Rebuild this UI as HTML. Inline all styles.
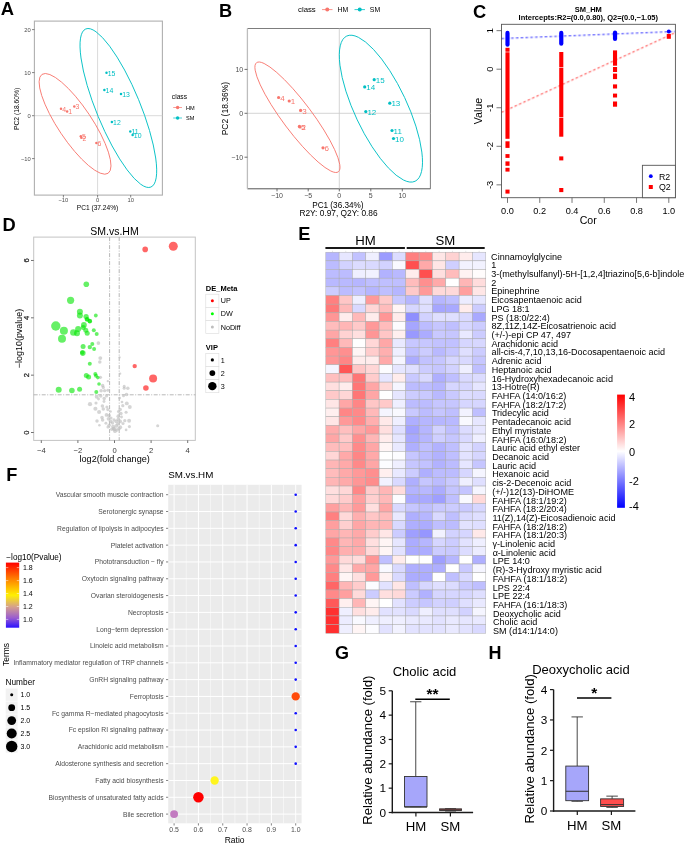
<!DOCTYPE html><html><head><meta charset="utf-8"><style>html,body{margin:0;padding:0;background:#fff;width:685px;height:843px;overflow:hidden}svg{display:block;will-change:transform}</style></head><body>
<svg width="685" height="843" viewBox="0 0 685 843" font-family='"Liberation Sans", sans-serif'>
<rect x="0.00" y="0.00" width="685.00" height="843.00" fill="#fff" stroke="none" stroke-width="1"/>
<text x="0.80" y="14.52" font-size="18.4" text-anchor="start" font-weight="700" fill="#000">A</text>
<rect x="34.40" y="21.10" width="128.00" height="174.00" fill="#fff" stroke="#B0B0B0" stroke-width="1.1"/>
<line x1="97.60" y1="21.10" x2="97.60" y2="195.10" stroke="#CFCFCF" stroke-width="0.8"/>
<line x1="34.40" y1="115.70" x2="162.40" y2="115.70" stroke="#CFCFCF" stroke-width="0.8"/>
<line x1="32.00" y1="29.60" x2="34.40" y2="29.60" stroke="#333" stroke-width="0.6"/>
<text x="30.80" y="31.69" font-size="5.8" text-anchor="end" font-weight="400" fill="#4D4D4D">20</text>
<line x1="32.00" y1="72.60" x2="34.40" y2="72.60" stroke="#333" stroke-width="0.6"/>
<text x="30.80" y="74.69" font-size="5.8" text-anchor="end" font-weight="400" fill="#4D4D4D">10</text>
<line x1="32.00" y1="115.70" x2="34.40" y2="115.70" stroke="#333" stroke-width="0.6"/>
<text x="30.80" y="117.79" font-size="5.8" text-anchor="end" font-weight="400" fill="#4D4D4D">0</text>
<line x1="32.00" y1="158.60" x2="34.40" y2="158.60" stroke="#333" stroke-width="0.6"/>
<text x="30.80" y="160.69" font-size="5.8" text-anchor="end" font-weight="400" fill="#4D4D4D">−10</text>
<line x1="63.40" y1="195.10" x2="63.40" y2="197.50" stroke="#333" stroke-width="0.6"/>
<text x="63.40" y="202.39" font-size="5.8" text-anchor="middle" font-weight="400" fill="#4D4D4D">−10</text>
<line x1="97.60" y1="195.10" x2="97.60" y2="197.50" stroke="#333" stroke-width="0.6"/>
<text x="97.60" y="202.39" font-size="5.8" text-anchor="middle" font-weight="400" fill="#4D4D4D">0</text>
<line x1="130.70" y1="195.10" x2="130.70" y2="197.50" stroke="#333" stroke-width="0.6"/>
<text x="130.70" y="202.39" font-size="5.8" text-anchor="middle" font-weight="400" fill="#4D4D4D">10</text>
<text x="97.50" y="209.68" font-size="6.6" text-anchor="middle" font-weight="400" fill="#000">PC1 (37.24%)</text>
<text x="16.90" y="111.33" font-size="6.75" text-anchor="middle" font-weight="400" fill="#000" transform="rotate(-90 16.90 108.90)">PC2 (18.60%)</text>
<ellipse cx="75.05" cy="123.85" rx="59.50" ry="16.95" transform="rotate(56.23 75.05 123.85)" fill="none" stroke="#F8766D" stroke-width="0.85"/>
<ellipse cx="118.35" cy="108.00" rx="85.50" ry="21.90" transform="rotate(67.62 118.35 108.00)" fill="none" stroke="#00BFC4" stroke-width="0.85"/>
<circle cx="61.00" cy="108.80" r="1.25" fill="#F8766D"/>
<text x="62.20" y="111.68" font-size="6.9" text-anchor="start" font-weight="400" fill="#F8766D">4</text>
<circle cx="67.10" cy="111.40" r="1.25" fill="#F8766D"/>
<text x="68.30" y="114.28" font-size="6.9" text-anchor="start" font-weight="400" fill="#F8766D">1</text>
<circle cx="74.30" cy="106.50" r="1.25" fill="#F8766D"/>
<text x="75.50" y="109.38" font-size="6.9" text-anchor="start" font-weight="400" fill="#F8766D">3</text>
<circle cx="80.80" cy="136.20" r="1.25" fill="#F8766D"/>
<text x="82.00" y="139.08" font-size="6.9" text-anchor="start" font-weight="400" fill="#F8766D">5</text>
<circle cx="81.30" cy="137.80" r="1.25" fill="#F8766D"/>
<text x="82.50" y="140.68" font-size="6.9" text-anchor="start" font-weight="400" fill="#F8766D">2</text>
<circle cx="96.40" cy="142.90" r="1.25" fill="#F8766D"/>
<text x="97.60" y="145.78" font-size="6.9" text-anchor="start" font-weight="400" fill="#F8766D">6</text>
<circle cx="106.50" cy="72.70" r="1.25" fill="#00BFC4"/>
<text x="107.70" y="75.58" font-size="6.9" text-anchor="start" font-weight="400" fill="#00BFC4">15</text>
<circle cx="104.40" cy="89.90" r="1.25" fill="#00BFC4"/>
<text x="105.60" y="92.78" font-size="6.9" text-anchor="start" font-weight="400" fill="#00BFC4">14</text>
<circle cx="121.00" cy="94.00" r="1.25" fill="#00BFC4"/>
<text x="122.20" y="96.88" font-size="6.9" text-anchor="start" font-weight="400" fill="#00BFC4">13</text>
<circle cx="111.90" cy="122.00" r="1.25" fill="#00BFC4"/>
<text x="113.10" y="124.88" font-size="6.9" text-anchor="start" font-weight="400" fill="#00BFC4">12</text>
<circle cx="130.30" cy="131.50" r="1.25" fill="#00BFC4"/>
<text x="131.50" y="134.38" font-size="6.9" text-anchor="start" font-weight="400" fill="#00BFC4">11</text>
<circle cx="132.60" cy="135.00" r="1.25" fill="#00BFC4"/>
<text x="133.80" y="137.88" font-size="6.9" text-anchor="start" font-weight="400" fill="#00BFC4">10</text>
<text x="171.80" y="98.61" font-size="6.7" text-anchor="start" font-weight="400" fill="#000">class</text>
<line x1="173.20" y1="107.50" x2="182.00" y2="107.50" stroke="#F8766D" stroke-width="0.7"/>
<circle cx="177.60" cy="107.50" r="1.70" fill="#F8766D"/>
<text x="186.00" y="109.52" font-size="5.6" text-anchor="start" font-weight="400" fill="#000">HM</text>
<line x1="173.20" y1="118.00" x2="182.00" y2="118.00" stroke="#00BFC4" stroke-width="0.7"/>
<circle cx="177.60" cy="118.00" r="1.70" fill="#00BFC4"/>
<text x="186.00" y="120.02" font-size="5.6" text-anchor="start" font-weight="400" fill="#000">SM</text>
<text x="219.00" y="16.95" font-size="18.2" text-anchor="start" font-weight="700" fill="#000">B</text>
<rect x="247.40" y="28.50" width="183.00" height="160.30" fill="#fff" stroke="none" stroke-width="1"/>
<line x1="247.40" y1="28.50" x2="430.40" y2="28.50" stroke="#6E6E6E" stroke-width="0.9"/>
<line x1="430.40" y1="28.50" x2="430.40" y2="188.80" stroke="#6E6E6E" stroke-width="0.9"/>
<line x1="247.40" y1="188.80" x2="430.40" y2="188.80" stroke="#555" stroke-width="1.0"/>
<line x1="247.40" y1="28.50" x2="247.40" y2="188.80" stroke="#BDBDBD" stroke-width="1.3"/>
<line x1="339.30" y1="28.50" x2="339.30" y2="188.80" stroke="#CACACA" stroke-width="0.8"/>
<line x1="247.40" y1="113.30" x2="430.40" y2="113.30" stroke="#CACACA" stroke-width="0.8"/>
<line x1="244.50" y1="69.40" x2="247.40" y2="69.40" stroke="#333" stroke-width="0.7"/>
<text x="243.20" y="71.92" font-size="7.0" text-anchor="end" font-weight="400" fill="#4D4D4D">10</text>
<line x1="244.50" y1="113.30" x2="247.40" y2="113.30" stroke="#333" stroke-width="0.7"/>
<text x="243.20" y="115.82" font-size="7.0" text-anchor="end" font-weight="400" fill="#4D4D4D">0</text>
<line x1="244.50" y1="157.20" x2="247.40" y2="157.20" stroke="#333" stroke-width="0.7"/>
<text x="243.20" y="159.72" font-size="7.0" text-anchor="end" font-weight="400" fill="#4D4D4D">−10</text>
<line x1="277.00" y1="188.80" x2="277.00" y2="191.40" stroke="#333" stroke-width="0.7"/>
<text x="277.00" y="198.12" font-size="7.0" text-anchor="middle" font-weight="400" fill="#4D4D4D">−10</text>
<line x1="308.20" y1="188.80" x2="308.20" y2="191.40" stroke="#333" stroke-width="0.7"/>
<text x="308.20" y="198.12" font-size="7.0" text-anchor="middle" font-weight="400" fill="#4D4D4D">−5</text>
<line x1="339.30" y1="188.80" x2="339.30" y2="191.40" stroke="#333" stroke-width="0.7"/>
<text x="339.30" y="198.12" font-size="7.0" text-anchor="middle" font-weight="400" fill="#4D4D4D">0</text>
<line x1="370.80" y1="188.80" x2="370.80" y2="191.40" stroke="#333" stroke-width="0.7"/>
<text x="370.80" y="198.12" font-size="7.0" text-anchor="middle" font-weight="400" fill="#4D4D4D">5</text>
<line x1="402.30" y1="188.80" x2="402.30" y2="191.40" stroke="#333" stroke-width="0.7"/>
<text x="402.30" y="198.12" font-size="7.0" text-anchor="middle" font-weight="400" fill="#4D4D4D">10</text>
<text x="337.90" y="208.15" font-size="8.2" text-anchor="middle" font-weight="400" fill="#000">PC1 (36.34%)</text>
<text x="338.50" y="215.80" font-size="8.33" text-anchor="middle" font-weight="400" fill="#000">R2Y: 0.97, Q2Y: 0.86</text>
<text x="224.60" y="111.66" font-size="8.5" text-anchor="middle" font-weight="400" fill="#000" transform="rotate(-90 224.60 108.60)">PC2 (18.36%)</text>
<text x="298.00" y="12.41" font-size="7.8" text-anchor="start" font-weight="400" fill="#000">class</text>
<line x1="322.00" y1="9.60" x2="332.50" y2="9.60" stroke="#F8766D" stroke-width="0.8"/>
<circle cx="327.25" cy="9.60" r="2.00" fill="#F8766D"/>
<text x="337.60" y="12.08" font-size="6.9" text-anchor="start" font-weight="400" fill="#000">HM</text>
<line x1="354.50" y1="9.60" x2="365.00" y2="9.60" stroke="#00BFC4" stroke-width="0.8"/>
<circle cx="359.75" cy="9.60" r="2.00" fill="#00BFC4"/>
<text x="369.80" y="12.08" font-size="6.9" text-anchor="start" font-weight="400" fill="#000">SM</text>
<ellipse cx="297.45" cy="117.25" rx="68.19" ry="14.60" transform="rotate(53.13 297.45 117.25)" fill="none" stroke="#F8766D" stroke-width="0.85"/>
<ellipse cx="380.90" cy="108.65" rx="80.25" ry="26.20" transform="rotate(64.78 380.90 108.65)" fill="none" stroke="#00BFC4" stroke-width="0.85"/>
<circle cx="278.60" cy="97.50" r="1.60" fill="#F8766D"/>
<text x="280.20" y="100.78" font-size="8.0" text-anchor="start" font-weight="400" fill="#F8766D">4</text>
<circle cx="289.20" cy="101.00" r="1.60" fill="#F8766D"/>
<text x="290.80" y="104.28" font-size="8.0" text-anchor="start" font-weight="400" fill="#F8766D">1</text>
<circle cx="300.60" cy="110.40" r="1.60" fill="#F8766D"/>
<text x="302.20" y="113.68" font-size="8.0" text-anchor="start" font-weight="400" fill="#F8766D">3</text>
<circle cx="299.40" cy="126.40" r="1.60" fill="#F8766D"/>
<text x="301.00" y="129.68" font-size="8.0" text-anchor="start" font-weight="400" fill="#F8766D">5</text>
<circle cx="300.00" cy="127.00" r="1.60" fill="#F8766D"/>
<text x="301.60" y="130.28" font-size="8.0" text-anchor="start" font-weight="400" fill="#F8766D">2</text>
<circle cx="323.00" cy="147.80" r="1.60" fill="#F8766D"/>
<text x="324.60" y="151.08" font-size="8.0" text-anchor="start" font-weight="400" fill="#F8766D">6</text>
<circle cx="374.20" cy="79.70" r="1.60" fill="#00BFC4"/>
<text x="375.80" y="82.98" font-size="8.0" text-anchor="start" font-weight="400" fill="#00BFC4">15</text>
<circle cx="364.70" cy="86.90" r="1.60" fill="#00BFC4"/>
<text x="366.30" y="90.18" font-size="8.0" text-anchor="start" font-weight="400" fill="#00BFC4">14</text>
<circle cx="389.80" cy="103.20" r="1.60" fill="#00BFC4"/>
<text x="391.40" y="106.48" font-size="8.0" text-anchor="start" font-weight="400" fill="#00BFC4">13</text>
<circle cx="365.80" cy="111.60" r="1.60" fill="#00BFC4"/>
<text x="367.40" y="114.88" font-size="8.0" text-anchor="start" font-weight="400" fill="#00BFC4">12</text>
<circle cx="392.00" cy="130.50" r="1.60" fill="#00BFC4"/>
<text x="393.60" y="133.78" font-size="8.0" text-anchor="start" font-weight="400" fill="#00BFC4">11</text>
<circle cx="393.50" cy="138.50" r="1.60" fill="#00BFC4"/>
<text x="395.10" y="141.78" font-size="8.0" text-anchor="start" font-weight="400" fill="#00BFC4">10</text>
<text x="472.90" y="18.44" font-size="18.3" text-anchor="start" font-weight="700" fill="#000">C</text>
<text x="588.30" y="11.70" font-size="7.5" text-anchor="middle" font-weight="700" fill="#000">SM_HM</text>
<text x="588.30" y="20.30" font-size="7.5" text-anchor="middle" font-weight="700" fill="#000">Intercepts:R2=(0.0,0.80), Q2=(0.0,−1.05)</text>
<svg x="501.5" y="24.3" width="173.89999999999998" height="173.39999999999998" overflow="hidden"><g transform="translate(-501.5,-24.3)">
<line x1="501.50" y1="38.60" x2="675.40" y2="31.54" stroke="#2020FF" stroke-width="0.9" stroke-dasharray="2.6 2.2"/>
<line x1="501.50" y1="112.43" x2="675.40" y2="32.63" stroke="#FF2020" stroke-width="0.9" stroke-dasharray="2.6 2.2"/>
</g></svg>
<rect x="505.45" y="47.80" width="4.10" height="3.90" fill="#FF0000" stroke="none" stroke-width="1"/>
<rect x="505.45" y="52.30" width="4.10" height="86.50" fill="#FF0000" stroke="none" stroke-width="1"/>
<rect x="505.45" y="141.30" width="4.10" height="6.60" fill="#FF0000" stroke="none" stroke-width="1"/>
<rect x="505.45" y="154.10" width="4.10" height="3.80" fill="#FF0000" stroke="none" stroke-width="1"/>
<rect x="505.45" y="161.40" width="4.10" height="4.40" fill="#FF0000" stroke="none" stroke-width="1"/>
<rect x="505.45" y="167.80" width="4.10" height="3.80" fill="#FF0000" stroke="none" stroke-width="1"/>
<rect x="505.45" y="189.60" width="4.10" height="4.00" fill="#FF0000" stroke="none" stroke-width="1"/>
<rect x="505.40" y="30.8" width="4.2" height="16" rx="2.1" fill="#0000FF"/>
<rect x="559.22" y="52.00" width="4.10" height="15.30" fill="#FF0000" stroke="none" stroke-width="1"/>
<rect x="559.22" y="67.90" width="4.10" height="49.20" fill="#FF0000" stroke="none" stroke-width="1"/>
<rect x="559.22" y="117.70" width="4.10" height="19.00" fill="#FF0000" stroke="none" stroke-width="1"/>
<rect x="559.22" y="156.40" width="4.10" height="4.00" fill="#FF0000" stroke="none" stroke-width="1"/>
<rect x="559.22" y="188.00" width="4.10" height="4.10" fill="#FF0000" stroke="none" stroke-width="1"/>
<rect x="559.17" y="30.8" width="4.2" height="15" rx="2.1" fill="#0000FF"/>
<rect x="612.98" y="50.40" width="4.10" height="15.30" fill="#FF0000" stroke="none" stroke-width="1"/>
<rect x="612.98" y="67.00" width="4.10" height="5.00" fill="#FF0000" stroke="none" stroke-width="1"/>
<rect x="612.98" y="73.60" width="4.10" height="5.50" fill="#FF0000" stroke="none" stroke-width="1"/>
<rect x="612.98" y="84.40" width="4.10" height="4.10" fill="#FF0000" stroke="none" stroke-width="1"/>
<rect x="612.98" y="93.60" width="4.10" height="3.90" fill="#FF0000" stroke="none" stroke-width="1"/>
<rect x="612.98" y="101.50" width="4.10" height="5.20" fill="#FF0000" stroke="none" stroke-width="1"/>
<rect x="612.93" y="30.5" width="4.2" height="10.5" rx="2.1" fill="#0000FF"/>
<rect x="666.75" y="33.90" width="4.10" height="4.90" fill="#FF0000" stroke="none" stroke-width="1"/>
<circle cx="668.80" cy="31.60" r="2.00" fill="#0000FF"/>
<rect x="501.50" y="24.30" width="173.90" height="173.40" fill="none" stroke="#555" stroke-width="0.9"/>
<rect x="642.40" y="165.30" width="33.00" height="32.40" fill="#fff" stroke="#555" stroke-width="0.9"/>
<circle cx="650.80" cy="176.20" r="1.90" fill="#0000FF"/>
<rect x="648.80" y="185.00" width="4.00" height="4.00" fill="#FF0000" stroke="none" stroke-width="1"/>
<text x="659.00" y="179.57" font-size="8.8" text-anchor="start" font-weight="400" fill="#000">R2</text>
<text x="659.00" y="190.37" font-size="8.8" text-anchor="start" font-weight="400" fill="#000">Q2</text>
<line x1="496.50" y1="30.65" x2="501.50" y2="30.65" stroke="#555" stroke-width="0.8"/>
<text x="489.30" y="34.03" font-size="9.4" text-anchor="middle" font-weight="400" fill="#000" transform="rotate(-90 489.30 30.65)">1</text>
<line x1="496.50" y1="69.20" x2="501.50" y2="69.20" stroke="#555" stroke-width="0.8"/>
<text x="489.30" y="72.58" font-size="9.4" text-anchor="middle" font-weight="400" fill="#000" transform="rotate(-90 489.30 69.20)">0</text>
<line x1="496.50" y1="107.75" x2="501.50" y2="107.75" stroke="#555" stroke-width="0.8"/>
<text x="489.30" y="111.13" font-size="9.4" text-anchor="middle" font-weight="400" fill="#000" transform="rotate(-90 489.30 107.75)">-1</text>
<line x1="496.50" y1="146.30" x2="501.50" y2="146.30" stroke="#555" stroke-width="0.8"/>
<text x="489.30" y="149.68" font-size="9.4" text-anchor="middle" font-weight="400" fill="#000" transform="rotate(-90 489.30 146.30)">-2</text>
<line x1="496.50" y1="184.85" x2="501.50" y2="184.85" stroke="#555" stroke-width="0.8"/>
<text x="489.30" y="188.23" font-size="9.4" text-anchor="middle" font-weight="400" fill="#000" transform="rotate(-90 489.30 184.85)">-3</text>
<line x1="507.50" y1="197.70" x2="507.50" y2="202.90" stroke="#555" stroke-width="0.8"/>
<text x="507.50" y="213.51" font-size="9.2" text-anchor="middle" font-weight="400" fill="#000">0.0</text>
<line x1="539.76" y1="197.70" x2="539.76" y2="202.90" stroke="#555" stroke-width="0.8"/>
<text x="539.76" y="213.51" font-size="9.2" text-anchor="middle" font-weight="400" fill="#000">0.2</text>
<line x1="572.02" y1="197.70" x2="572.02" y2="202.90" stroke="#555" stroke-width="0.8"/>
<text x="572.02" y="213.51" font-size="9.2" text-anchor="middle" font-weight="400" fill="#000">0.4</text>
<line x1="604.28" y1="197.70" x2="604.28" y2="202.90" stroke="#555" stroke-width="0.8"/>
<text x="604.28" y="213.51" font-size="9.2" text-anchor="middle" font-weight="400" fill="#000">0.6</text>
<line x1="636.54" y1="197.70" x2="636.54" y2="202.90" stroke="#555" stroke-width="0.8"/>
<text x="636.54" y="213.51" font-size="9.2" text-anchor="middle" font-weight="400" fill="#000">0.8</text>
<line x1="668.80" y1="197.70" x2="668.80" y2="202.90" stroke="#555" stroke-width="0.8"/>
<text x="668.80" y="213.51" font-size="9.2" text-anchor="middle" font-weight="400" fill="#000">1.0</text>
<text x="588.20" y="224.02" font-size="10.6" text-anchor="middle" font-weight="400" fill="#000">Cor</text>
<text x="477.90" y="114.92" font-size="10.6" text-anchor="middle" font-weight="400" fill="#000" transform="rotate(-90 477.90 111.10)">Value</text>
<text x="2.60" y="231.19" font-size="18.3" text-anchor="start" font-weight="700" fill="#000">D</text>
<rect x="33.70" y="237.10" width="161.60" height="203.30" fill="#fff" stroke="#C4C4C4" stroke-width="1.0"/>
<text x="114.50" y="234.78" font-size="10.5" text-anchor="middle" font-weight="400" fill="#000">SM.vs.HM</text>
<line x1="109.60" y1="237.10" x2="109.60" y2="440.40" stroke="#9A9A9A" stroke-width="0.7" stroke-dasharray="4 1.5 1 1.5"/>
<line x1="119.20" y1="237.10" x2="119.20" y2="440.40" stroke="#9A9A9A" stroke-width="0.7" stroke-dasharray="4 1.5 1 1.5"/>
<line x1="33.70" y1="394.80" x2="195.30" y2="394.80" stroke="#9A9A9A" stroke-width="0.7" stroke-dasharray="4 1.5 1 1.5"/>
<line x1="31.00" y1="432.50" x2="33.70" y2="432.50" stroke="#333" stroke-width="0.7"/>
<text x="26.00" y="435.24" font-size="7.6" text-anchor="middle" font-weight="400" fill="#2A2A2A" transform="rotate(-90 26.00 432.50)" stroke="#2A2A2A" stroke-width="0.25">0</text>
<line x1="31.00" y1="375.16" x2="33.70" y2="375.16" stroke="#333" stroke-width="0.7"/>
<text x="26.00" y="377.90" font-size="7.6" text-anchor="middle" font-weight="400" fill="#2A2A2A" transform="rotate(-90 26.00 375.16)" stroke="#2A2A2A" stroke-width="0.25">2</text>
<line x1="31.00" y1="317.82" x2="33.70" y2="317.82" stroke="#333" stroke-width="0.7"/>
<text x="26.00" y="320.56" font-size="7.6" text-anchor="middle" font-weight="400" fill="#2A2A2A" transform="rotate(-90 26.00 317.82)" stroke="#2A2A2A" stroke-width="0.25">4</text>
<line x1="31.00" y1="260.48" x2="33.70" y2="260.48" stroke="#333" stroke-width="0.7"/>
<text x="26.00" y="263.22" font-size="7.6" text-anchor="middle" font-weight="400" fill="#2A2A2A" transform="rotate(-90 26.00 260.48)" stroke="#2A2A2A" stroke-width="0.25">6</text>
<line x1="41.30" y1="440.40" x2="41.30" y2="443.00" stroke="#333" stroke-width="0.7"/>
<text x="41.30" y="452.74" font-size="7.6" text-anchor="middle" font-weight="400" fill="#3A3A3A">−4</text>
<line x1="77.90" y1="440.40" x2="77.90" y2="443.00" stroke="#333" stroke-width="0.7"/>
<text x="77.90" y="452.74" font-size="7.6" text-anchor="middle" font-weight="400" fill="#3A3A3A">−2</text>
<line x1="114.50" y1="440.40" x2="114.50" y2="443.00" stroke="#333" stroke-width="0.7"/>
<text x="114.50" y="452.74" font-size="7.6" text-anchor="middle" font-weight="400" fill="#3A3A3A">0</text>
<line x1="151.10" y1="440.40" x2="151.10" y2="443.00" stroke="#333" stroke-width="0.7"/>
<text x="151.10" y="452.74" font-size="7.6" text-anchor="middle" font-weight="400" fill="#3A3A3A">2</text>
<line x1="187.70" y1="440.40" x2="187.70" y2="443.00" stroke="#333" stroke-width="0.7"/>
<text x="187.70" y="452.74" font-size="7.6" text-anchor="middle" font-weight="400" fill="#3A3A3A">4</text>
<text x="114.70" y="461.58" font-size="9.1" text-anchor="middle" font-weight="400" fill="#000">log2(fold change)</text>
<text x="19.00" y="341.72" font-size="8.95" text-anchor="middle" font-weight="400" fill="#000" transform="rotate(-90 19.00 338.50)">−log10(pvalue)</text>
<circle cx="98.40" cy="343.10" r="1.85" fill="#BEBEBE" fill-opacity="0.65"/>
<circle cx="100.30" cy="358.10" r="1.95" fill="#BEBEBE" fill-opacity="0.65"/>
<circle cx="99.80" cy="362.00" r="1.75" fill="#BEBEBE" fill-opacity="0.65"/>
<circle cx="119.60" cy="357.40" r="1.15" fill="#BEBEBE" fill-opacity="0.65"/>
<circle cx="120.20" cy="373.70" r="1.15" fill="#BEBEBE" fill-opacity="0.65"/>
<circle cx="100.40" cy="377.30" r="1.65" fill="#BEBEBE" fill-opacity="0.65"/>
<circle cx="107.80" cy="381.20" r="1.15" fill="#BEBEBE" fill-opacity="0.65"/>
<circle cx="102.60" cy="385.50" r="1.75" fill="#BEBEBE" fill-opacity="0.65"/>
<circle cx="103.30" cy="387.40" r="1.65" fill="#BEBEBE" fill-opacity="0.65"/>
<circle cx="101.10" cy="390.70" r="1.75" fill="#BEBEBE" fill-opacity="0.65"/>
<circle cx="104.60" cy="390.70" r="1.65" fill="#BEBEBE" fill-opacity="0.65"/>
<circle cx="107.80" cy="390.30" r="1.55" fill="#BEBEBE" fill-opacity="0.65"/>
<circle cx="124.20" cy="386.40" r="1.55" fill="#BEBEBE" fill-opacity="0.65"/>
<circle cx="124.20" cy="388.30" r="1.55" fill="#BEBEBE" fill-opacity="0.65"/>
<circle cx="127.80" cy="388.30" r="1.75" fill="#BEBEBE" fill-opacity="0.65"/>
<circle cx="96.70" cy="396.80" r="1.95" fill="#BEBEBE" fill-opacity="0.65"/>
<circle cx="100.70" cy="395.90" r="1.75" fill="#BEBEBE" fill-opacity="0.65"/>
<circle cx="104.20" cy="398.50" r="1.75" fill="#BEBEBE" fill-opacity="0.65"/>
<circle cx="106.50" cy="395.90" r="1.55" fill="#BEBEBE" fill-opacity="0.65"/>
<circle cx="126.50" cy="394.60" r="1.75" fill="#BEBEBE" fill-opacity="0.65"/>
<circle cx="123.50" cy="395.90" r="1.45" fill="#BEBEBE" fill-opacity="0.65"/>
<circle cx="119.60" cy="398.10" r="1.45" fill="#BEBEBE" fill-opacity="0.65"/>
<circle cx="90.00" cy="404.20" r="2.15" fill="#BEBEBE" fill-opacity="0.65"/>
<circle cx="95.40" cy="408.70" r="2.05" fill="#BEBEBE" fill-opacity="0.65"/>
<circle cx="99.10" cy="412.00" r="2.05" fill="#BEBEBE" fill-opacity="0.65"/>
<circle cx="102.40" cy="406.10" r="1.75" fill="#BEBEBE" fill-opacity="0.65"/>
<circle cx="103.30" cy="409.00" r="1.75" fill="#BEBEBE" fill-opacity="0.65"/>
<circle cx="106.90" cy="407.00" r="1.55" fill="#BEBEBE" fill-opacity="0.65"/>
<circle cx="107.80" cy="409.60" r="1.55" fill="#BEBEBE" fill-opacity="0.65"/>
<circle cx="126.80" cy="403.40" r="1.95" fill="#BEBEBE" fill-opacity="0.65"/>
<circle cx="129.80" cy="407.00" r="1.95" fill="#BEBEBE" fill-opacity="0.65"/>
<circle cx="122.80" cy="405.70" r="1.65" fill="#BEBEBE" fill-opacity="0.65"/>
<circle cx="120.20" cy="409.60" r="1.75" fill="#BEBEBE" fill-opacity="0.65"/>
<circle cx="126.10" cy="412.20" r="1.55" fill="#BEBEBE" fill-opacity="0.65"/>
<circle cx="106.50" cy="414.90" r="1.85" fill="#BEBEBE" fill-opacity="0.65"/>
<circle cx="109.10" cy="415.50" r="1.75" fill="#BEBEBE" fill-opacity="0.65"/>
<circle cx="118.30" cy="416.20" r="1.85" fill="#BEBEBE" fill-opacity="0.65"/>
<circle cx="120.90" cy="413.50" r="1.75" fill="#BEBEBE" fill-opacity="0.65"/>
<circle cx="102.00" cy="417.50" r="1.75" fill="#BEBEBE" fill-opacity="0.65"/>
<circle cx="102.60" cy="420.00" r="1.75" fill="#BEBEBE" fill-opacity="0.65"/>
<circle cx="97.00" cy="421.10" r="1.75" fill="#BEBEBE" fill-opacity="0.65"/>
<circle cx="108.50" cy="418.80" r="1.85" fill="#BEBEBE" fill-opacity="0.65"/>
<circle cx="110.50" cy="421.40" r="1.85" fill="#BEBEBE" fill-opacity="0.65"/>
<circle cx="116.30" cy="421.40" r="1.85" fill="#BEBEBE" fill-opacity="0.65"/>
<circle cx="118.30" cy="419.40" r="1.85" fill="#BEBEBE" fill-opacity="0.65"/>
<circle cx="120.20" cy="421.40" r="1.85" fill="#BEBEBE" fill-opacity="0.65"/>
<circle cx="124.80" cy="420.70" r="1.65" fill="#BEBEBE" fill-opacity="0.65"/>
<circle cx="129.10" cy="420.70" r="1.95" fill="#BEBEBE" fill-opacity="0.65"/>
<circle cx="109.10" cy="425.30" r="1.75" fill="#BEBEBE" fill-opacity="0.65"/>
<circle cx="113.10" cy="426.60" r="1.95" fill="#BEBEBE" fill-opacity="0.65"/>
<circle cx="116.30" cy="425.90" r="1.95" fill="#BEBEBE" fill-opacity="0.65"/>
<circle cx="120.20" cy="427.20" r="1.95" fill="#BEBEBE" fill-opacity="0.65"/>
<circle cx="114.40" cy="429.20" r="1.95" fill="#BEBEBE" fill-opacity="0.65"/>
<circle cx="115.00" cy="431.20" r="1.85" fill="#BEBEBE" fill-opacity="0.65"/>
<circle cx="111.80" cy="429.20" r="1.75" fill="#BEBEBE" fill-opacity="0.65"/>
<circle cx="129.40" cy="426.60" r="1.55" fill="#BEBEBE" fill-opacity="0.65"/>
<circle cx="126.10" cy="429.90" r="1.35" fill="#BEBEBE" fill-opacity="0.65"/>
<circle cx="157.70" cy="425.70" r="1.55" fill="#BEBEBE" fill-opacity="0.65"/>
<circle cx="99.40" cy="425.30" r="1.25" fill="#BEBEBE" fill-opacity="0.65"/>
<circle cx="105.90" cy="423.30" r="1.45" fill="#BEBEBE" fill-opacity="0.65"/>
<circle cx="112.50" cy="423.00" r="1.65" fill="#BEBEBE" fill-opacity="0.65"/>
<circle cx="117.80" cy="424.00" r="1.75" fill="#BEBEBE" fill-opacity="0.65"/>
<circle cx="111.00" cy="418.00" r="1.55" fill="#BEBEBE" fill-opacity="0.65"/>
<circle cx="114.00" cy="420.00" r="1.65" fill="#BEBEBE" fill-opacity="0.65"/>
<circle cx="118.50" cy="411.50" r="1.55" fill="#BEBEBE" fill-opacity="0.65"/>
<circle cx="121.50" cy="417.00" r="1.45" fill="#BEBEBE" fill-opacity="0.65"/>
<circle cx="104.00" cy="401.50" r="1.45" fill="#BEBEBE" fill-opacity="0.65"/>
<circle cx="98.50" cy="399.00" r="1.45" fill="#BEBEBE" fill-opacity="0.65"/>
<circle cx="110.50" cy="411.50" r="1.35" fill="#BEBEBE" fill-opacity="0.65"/>
<circle cx="122.00" cy="402.00" r="1.35" fill="#BEBEBE" fill-opacity="0.65"/>
<circle cx="113.50" cy="428.50" r="1.75" fill="#BEBEBE" fill-opacity="0.65"/>
<circle cx="117.00" cy="430.00" r="1.75" fill="#BEBEBE" fill-opacity="0.65"/>
<circle cx="119.00" cy="428.80" r="1.65" fill="#BEBEBE" fill-opacity="0.65"/>
<circle cx="108.00" cy="427.00" r="1.55" fill="#BEBEBE" fill-opacity="0.65"/>
<circle cx="123.00" cy="423.50" r="1.55" fill="#BEBEBE" fill-opacity="0.65"/>
<circle cx="96.00" cy="403.00" r="1.55" fill="#BEBEBE" fill-opacity="0.65"/>
<circle cx="86.30" cy="284.30" r="2.80" fill="#00E600" fill-opacity="0.6"/>
<circle cx="70.60" cy="300.30" r="3.60" fill="#00E600" fill-opacity="0.6"/>
<circle cx="79.90" cy="311.80" r="3.00" fill="#00E600" fill-opacity="0.6"/>
<circle cx="79.90" cy="315.50" r="3.00" fill="#00E600" fill-opacity="0.6"/>
<circle cx="86.10" cy="316.50" r="2.60" fill="#00E600" fill-opacity="0.6"/>
<circle cx="87.30" cy="319.20" r="2.30" fill="#00E600" fill-opacity="0.6"/>
<circle cx="89.80" cy="321.00" r="2.20" fill="#00E600" fill-opacity="0.6"/>
<circle cx="95.80" cy="315.50" r="1.90" fill="#00E600" fill-opacity="0.6"/>
<circle cx="55.80" cy="326.00" r="4.70" fill="#00E600" fill-opacity="0.6"/>
<circle cx="63.90" cy="330.70" r="4.00" fill="#00E600" fill-opacity="0.6"/>
<circle cx="62.00" cy="338.70" r="4.00" fill="#00E600" fill-opacity="0.6"/>
<circle cx="73.40" cy="332.50" r="3.30" fill="#00E600" fill-opacity="0.6"/>
<circle cx="78.10" cy="328.90" r="3.00" fill="#00E600" fill-opacity="0.6"/>
<circle cx="77.00" cy="333.20" r="3.00" fill="#00E600" fill-opacity="0.6"/>
<circle cx="83.90" cy="324.90" r="2.90" fill="#00E600" fill-opacity="0.6"/>
<circle cx="83.20" cy="327.40" r="2.50" fill="#00E600" fill-opacity="0.6"/>
<circle cx="85.80" cy="330.30" r="2.50" fill="#00E600" fill-opacity="0.6"/>
<circle cx="87.20" cy="333.20" r="2.50" fill="#00E600" fill-opacity="0.6"/>
<circle cx="93.80" cy="330.30" r="2.00" fill="#00E600" fill-opacity="0.6"/>
<circle cx="96.70" cy="334.00" r="2.00" fill="#00E600" fill-opacity="0.6"/>
<circle cx="89.80" cy="321.20" r="2.20" fill="#00E600" fill-opacity="0.6"/>
<circle cx="86.90" cy="319.40" r="2.20" fill="#00E600" fill-opacity="0.6"/>
<circle cx="83.10" cy="346.60" r="2.50" fill="#00E600" fill-opacity="0.6"/>
<circle cx="82.80" cy="353.10" r="2.80" fill="#00E600" fill-opacity="0.6"/>
<circle cx="82.30" cy="352.50" r="2.20" fill="#00E600" fill-opacity="0.6"/>
<circle cx="89.80" cy="347.10" r="2.20" fill="#00E600" fill-opacity="0.6"/>
<circle cx="92.30" cy="343.90" r="2.00" fill="#00E600" fill-opacity="0.6"/>
<circle cx="94.10" cy="348.90" r="2.00" fill="#00E600" fill-opacity="0.6"/>
<circle cx="89.80" cy="363.80" r="2.00" fill="#00E600" fill-opacity="0.6"/>
<circle cx="86.30" cy="375.60" r="2.50" fill="#00E600" fill-opacity="0.6"/>
<circle cx="88.60" cy="377.10" r="2.50" fill="#00E600" fill-opacity="0.6"/>
<circle cx="95.30" cy="374.10" r="2.00" fill="#00E600" fill-opacity="0.6"/>
<circle cx="96.00" cy="375.80" r="2.00" fill="#00E600" fill-opacity="0.6"/>
<circle cx="97.80" cy="377.60" r="1.80" fill="#00E600" fill-opacity="0.6"/>
<circle cx="99.00" cy="384.00" r="1.80" fill="#00E600" fill-opacity="0.6"/>
<circle cx="58.70" cy="389.80" r="3.00" fill="#00E600" fill-opacity="0.6"/>
<circle cx="71.90" cy="390.50" r="2.80" fill="#00E600" fill-opacity="0.6"/>
<circle cx="79.60" cy="389.30" r="2.50" fill="#00E600" fill-opacity="0.6"/>
<circle cx="96.30" cy="392.00" r="2.00" fill="#00E600" fill-opacity="0.6"/>
<circle cx="173.30" cy="246.20" r="4.50" fill="#FF0000" fill-opacity="0.6"/>
<circle cx="145.20" cy="249.40" r="2.80" fill="#FF0000" fill-opacity="0.6"/>
<circle cx="134.70" cy="366.10" r="2.20" fill="#FF0000" fill-opacity="0.6"/>
<circle cx="153.10" cy="378.60" r="4.00" fill="#FF0000" fill-opacity="0.6"/>
<circle cx="145.90" cy="388.00" r="2.80" fill="#FF0000" fill-opacity="0.6"/>
<text x="205.80" y="290.70" font-size="7.5" text-anchor="start" font-weight="700" fill="#000">DE_Meta</text>
<rect x="205.80" y="294.20" width="13.10" height="13.10" fill="#fff" stroke="#DADADA" stroke-width="0.6"/>
<circle cx="212.35" cy="300.75" r="1.50" fill="#FF0000"/>
<text x="220.70" y="303.34" font-size="7.2" text-anchor="start" font-weight="400" fill="#000">UP</text>
<rect x="205.80" y="307.30" width="13.10" height="13.10" fill="#fff" stroke="#DADADA" stroke-width="0.6"/>
<circle cx="212.35" cy="313.85" r="1.50" fill="#00FF00"/>
<text x="220.70" y="316.44" font-size="7.2" text-anchor="start" font-weight="400" fill="#000">DW</text>
<rect x="205.80" y="320.40" width="13.10" height="13.10" fill="#fff" stroke="#DADADA" stroke-width="0.6"/>
<circle cx="212.35" cy="326.95" r="1.50" fill="#BEBEBE"/>
<text x="220.70" y="329.54" font-size="7.2" text-anchor="start" font-weight="400" fill="#000">NoDiff</text>
<text x="205.80" y="349.90" font-size="7.5" text-anchor="start" font-weight="700" fill="#000">VIP</text>
<rect x="205.80" y="353.40" width="13.10" height="13.10" fill="#fff" stroke="#DADADA" stroke-width="0.6"/>
<circle cx="212.35" cy="359.95" r="1.60" fill="#000"/>
<text x="220.70" y="362.54" font-size="7.2" text-anchor="start" font-weight="400" fill="#000">1</text>
<rect x="205.80" y="366.50" width="13.10" height="13.10" fill="#fff" stroke="#DADADA" stroke-width="0.6"/>
<circle cx="212.35" cy="373.05" r="2.90" fill="#000"/>
<text x="220.70" y="375.64" font-size="7.2" text-anchor="start" font-weight="400" fill="#000">2</text>
<rect x="205.80" y="379.60" width="13.10" height="13.10" fill="#fff" stroke="#DADADA" stroke-width="0.6"/>
<circle cx="212.35" cy="386.15" r="4.20" fill="#000"/>
<text x="220.70" y="388.74" font-size="7.2" text-anchor="start" font-weight="400" fill="#000">3</text>
<text x="298.20" y="240.35" font-size="18.2" text-anchor="start" font-weight="700" fill="#000">E</text>
<text x="365.60" y="244.95" font-size="13.2" text-anchor="middle" font-weight="400" fill="#000">HM</text>
<text x="445.40" y="244.75" font-size="13.2" text-anchor="middle" font-weight="400" fill="#000">SM</text>
<rect x="325.40" y="247.10" width="79.50" height="1.80" fill="#000" stroke="none" stroke-width="1"/>
<rect x="406.70" y="247.10" width="78.00" height="1.80" fill="#000" stroke="none" stroke-width="1"/>
<rect x="325.80" y="252.20" width="13.33" height="8.66" fill="#B6B6FF" stroke="#A8A8A8" stroke-width="0.45"/>
<rect x="339.13" y="252.20" width="13.33" height="8.66" fill="#E6E6FF" stroke="#A8A8A8" stroke-width="0.45"/>
<rect x="352.47" y="252.20" width="13.33" height="8.66" fill="#C2C2FF" stroke="#A8A8A8" stroke-width="0.45"/>
<rect x="365.80" y="252.20" width="13.33" height="8.66" fill="#EFEFFF" stroke="#A8A8A8" stroke-width="0.45"/>
<rect x="379.13" y="252.20" width="13.33" height="8.66" fill="#9C9CFF" stroke="#A8A8A8" stroke-width="0.45"/>
<rect x="392.47" y="252.20" width="13.33" height="8.66" fill="#DCDCFF" stroke="#A8A8A8" stroke-width="0.45"/>
<rect x="405.80" y="252.20" width="13.33" height="8.66" fill="#FF8080" stroke="#A8A8A8" stroke-width="0.45"/>
<rect x="419.13" y="252.20" width="13.33" height="8.66" fill="#FF8989" stroke="#A8A8A8" stroke-width="0.45"/>
<rect x="432.46" y="252.20" width="13.33" height="8.66" fill="#FFE6E6" stroke="#A8A8A8" stroke-width="0.45"/>
<rect x="445.80" y="252.20" width="13.33" height="8.66" fill="#FFD2D2" stroke="#A8A8A8" stroke-width="0.45"/>
<rect x="459.13" y="252.20" width="13.33" height="8.66" fill="#FFECEC" stroke="#A8A8A8" stroke-width="0.45"/>
<rect x="472.46" y="252.20" width="13.33" height="8.66" fill="#E6E6FF" stroke="#A8A8A8" stroke-width="0.45"/>
<rect x="325.80" y="260.86" width="13.33" height="8.66" fill="#BCBCFF" stroke="#A8A8A8" stroke-width="0.45"/>
<rect x="339.13" y="260.86" width="13.33" height="8.66" fill="#D2D2FF" stroke="#A8A8A8" stroke-width="0.45"/>
<rect x="352.47" y="260.86" width="13.33" height="8.66" fill="#DCDCFF" stroke="#A8A8A8" stroke-width="0.45"/>
<rect x="365.80" y="260.86" width="13.33" height="8.66" fill="#D9D9FF" stroke="#A8A8A8" stroke-width="0.45"/>
<rect x="379.13" y="260.86" width="13.33" height="8.66" fill="#D2D2FF" stroke="#A8A8A8" stroke-width="0.45"/>
<rect x="392.47" y="260.86" width="13.33" height="8.66" fill="#F9F9FF" stroke="#A8A8A8" stroke-width="0.45"/>
<rect x="405.80" y="260.86" width="13.33" height="8.66" fill="#FF5050" stroke="#A8A8A8" stroke-width="0.45"/>
<rect x="419.13" y="260.86" width="13.33" height="8.66" fill="#FFA9A9" stroke="#A8A8A8" stroke-width="0.45"/>
<rect x="432.46" y="260.86" width="13.33" height="8.66" fill="#FFE6E6" stroke="#A8A8A8" stroke-width="0.45"/>
<rect x="445.80" y="260.86" width="13.33" height="8.66" fill="#CFCFFF" stroke="#A8A8A8" stroke-width="0.45"/>
<rect x="459.13" y="260.86" width="13.33" height="8.66" fill="#F2F2FF" stroke="#A8A8A8" stroke-width="0.45"/>
<rect x="472.46" y="260.86" width="13.33" height="8.66" fill="#F2F2FF" stroke="#A8A8A8" stroke-width="0.45"/>
<rect x="325.80" y="269.52" width="13.33" height="8.66" fill="#BCBCFF" stroke="#A8A8A8" stroke-width="0.45"/>
<rect x="339.13" y="269.52" width="13.33" height="8.66" fill="#BCBCFF" stroke="#A8A8A8" stroke-width="0.45"/>
<rect x="352.47" y="269.52" width="13.33" height="8.66" fill="#EFEFFF" stroke="#A8A8A8" stroke-width="0.45"/>
<rect x="365.80" y="269.52" width="13.33" height="8.66" fill="#F2F2FF" stroke="#A8A8A8" stroke-width="0.45"/>
<rect x="379.13" y="269.52" width="13.33" height="8.66" fill="#B2B2FF" stroke="#A8A8A8" stroke-width="0.45"/>
<rect x="392.47" y="269.52" width="13.33" height="8.66" fill="#B9B9FF" stroke="#A8A8A8" stroke-width="0.45"/>
<rect x="405.80" y="269.52" width="13.33" height="8.66" fill="#FFECEC" stroke="#A8A8A8" stroke-width="0.45"/>
<rect x="419.13" y="269.52" width="13.33" height="8.66" fill="#FF5050" stroke="#A8A8A8" stroke-width="0.45"/>
<rect x="432.46" y="269.52" width="13.33" height="8.66" fill="#FFDFDF" stroke="#A8A8A8" stroke-width="0.45"/>
<rect x="445.80" y="269.52" width="13.33" height="8.66" fill="#FFBCBC" stroke="#A8A8A8" stroke-width="0.45"/>
<rect x="459.13" y="269.52" width="13.33" height="8.66" fill="#FFF2F2" stroke="#A8A8A8" stroke-width="0.45"/>
<rect x="472.46" y="269.52" width="13.33" height="8.66" fill="#FFFCFC" stroke="#A8A8A8" stroke-width="0.45"/>
<rect x="325.80" y="278.18" width="13.33" height="8.66" fill="#B9B9FF" stroke="#A8A8A8" stroke-width="0.45"/>
<rect x="339.13" y="278.18" width="13.33" height="8.66" fill="#B9B9FF" stroke="#A8A8A8" stroke-width="0.45"/>
<rect x="352.47" y="278.18" width="13.33" height="8.66" fill="#B6B6FF" stroke="#A8A8A8" stroke-width="0.45"/>
<rect x="365.80" y="278.18" width="13.33" height="8.66" fill="#BFBFFF" stroke="#A8A8A8" stroke-width="0.45"/>
<rect x="379.13" y="278.18" width="13.33" height="8.66" fill="#BFBFFF" stroke="#A8A8A8" stroke-width="0.45"/>
<rect x="392.47" y="278.18" width="13.33" height="8.66" fill="#BFBFFF" stroke="#A8A8A8" stroke-width="0.45"/>
<rect x="405.80" y="278.18" width="13.33" height="8.66" fill="#FFBCBC" stroke="#A8A8A8" stroke-width="0.45"/>
<rect x="419.13" y="278.18" width="13.33" height="8.66" fill="#FF8F8F" stroke="#A8A8A8" stroke-width="0.45"/>
<rect x="432.46" y="278.18" width="13.33" height="8.66" fill="#FFA9A9" stroke="#A8A8A8" stroke-width="0.45"/>
<rect x="445.80" y="278.18" width="13.33" height="8.66" fill="#FFFFFF" stroke="#A8A8A8" stroke-width="0.45"/>
<rect x="459.13" y="278.18" width="13.33" height="8.66" fill="#FFB6B6" stroke="#A8A8A8" stroke-width="0.45"/>
<rect x="472.46" y="278.18" width="13.33" height="8.66" fill="#FFDCDC" stroke="#A8A8A8" stroke-width="0.45"/>
<rect x="325.80" y="286.84" width="13.33" height="8.66" fill="#CCCCFF" stroke="#A8A8A8" stroke-width="0.45"/>
<rect x="339.13" y="286.84" width="13.33" height="8.66" fill="#BCBCFF" stroke="#A8A8A8" stroke-width="0.45"/>
<rect x="352.47" y="286.84" width="13.33" height="8.66" fill="#C2C2FF" stroke="#A8A8A8" stroke-width="0.45"/>
<rect x="365.80" y="286.84" width="13.33" height="8.66" fill="#B6B6FF" stroke="#A8A8A8" stroke-width="0.45"/>
<rect x="379.13" y="286.84" width="13.33" height="8.66" fill="#BFBFFF" stroke="#A8A8A8" stroke-width="0.45"/>
<rect x="392.47" y="286.84" width="13.33" height="8.66" fill="#B6B6FF" stroke="#A8A8A8" stroke-width="0.45"/>
<rect x="405.80" y="286.84" width="13.33" height="8.66" fill="#FFC9C9" stroke="#A8A8A8" stroke-width="0.45"/>
<rect x="419.13" y="286.84" width="13.33" height="8.66" fill="#FF9999" stroke="#A8A8A8" stroke-width="0.45"/>
<rect x="432.46" y="286.84" width="13.33" height="8.66" fill="#FFD9D9" stroke="#A8A8A8" stroke-width="0.45"/>
<rect x="445.80" y="286.84" width="13.33" height="8.66" fill="#FFD9D9" stroke="#A8A8A8" stroke-width="0.45"/>
<rect x="459.13" y="286.84" width="13.33" height="8.66" fill="#FF9F9F" stroke="#A8A8A8" stroke-width="0.45"/>
<rect x="472.46" y="286.84" width="13.33" height="8.66" fill="#FFE6E6" stroke="#A8A8A8" stroke-width="0.45"/>
<rect x="325.80" y="295.50" width="13.33" height="8.66" fill="#FF8080" stroke="#A8A8A8" stroke-width="0.45"/>
<rect x="339.13" y="295.50" width="13.33" height="8.66" fill="#FFC6C6" stroke="#A8A8A8" stroke-width="0.45"/>
<rect x="352.47" y="295.50" width="13.33" height="8.66" fill="#EFEFFF" stroke="#A8A8A8" stroke-width="0.45"/>
<rect x="365.80" y="295.50" width="13.33" height="8.66" fill="#FF9999" stroke="#A8A8A8" stroke-width="0.45"/>
<rect x="379.13" y="295.50" width="13.33" height="8.66" fill="#FFC9C9" stroke="#A8A8A8" stroke-width="0.45"/>
<rect x="392.47" y="295.50" width="13.33" height="8.66" fill="#C9C9FF" stroke="#A8A8A8" stroke-width="0.45"/>
<rect x="405.80" y="295.50" width="13.33" height="8.66" fill="#B6B6FF" stroke="#A8A8A8" stroke-width="0.45"/>
<rect x="419.13" y="295.50" width="13.33" height="8.66" fill="#DFDFFF" stroke="#A8A8A8" stroke-width="0.45"/>
<rect x="432.46" y="295.50" width="13.33" height="8.66" fill="#B6B6FF" stroke="#A8A8A8" stroke-width="0.45"/>
<rect x="445.80" y="295.50" width="13.33" height="8.66" fill="#BFBFFF" stroke="#A8A8A8" stroke-width="0.45"/>
<rect x="459.13" y="295.50" width="13.33" height="8.66" fill="#ECECFF" stroke="#A8A8A8" stroke-width="0.45"/>
<rect x="472.46" y="295.50" width="13.33" height="8.66" fill="#E6E6FF" stroke="#A8A8A8" stroke-width="0.45"/>
<rect x="325.80" y="304.17" width="13.33" height="8.66" fill="#FF7979" stroke="#A8A8A8" stroke-width="0.45"/>
<rect x="339.13" y="304.17" width="13.33" height="8.66" fill="#FFB9B9" stroke="#A8A8A8" stroke-width="0.45"/>
<rect x="352.47" y="304.17" width="13.33" height="8.66" fill="#D9D9FF" stroke="#A8A8A8" stroke-width="0.45"/>
<rect x="365.80" y="304.17" width="13.33" height="8.66" fill="#FFD6D6" stroke="#A8A8A8" stroke-width="0.45"/>
<rect x="379.13" y="304.17" width="13.33" height="8.66" fill="#FFBCBC" stroke="#A8A8A8" stroke-width="0.45"/>
<rect x="392.47" y="304.17" width="13.33" height="8.66" fill="#FFF5F5" stroke="#A8A8A8" stroke-width="0.45"/>
<rect x="405.80" y="304.17" width="13.33" height="8.66" fill="#D6D6FF" stroke="#A8A8A8" stroke-width="0.45"/>
<rect x="419.13" y="304.17" width="13.33" height="8.66" fill="#DFDFFF" stroke="#A8A8A8" stroke-width="0.45"/>
<rect x="432.46" y="304.17" width="13.33" height="8.66" fill="#A6A6FF" stroke="#A8A8A8" stroke-width="0.45"/>
<rect x="445.80" y="304.17" width="13.33" height="8.66" fill="#A9A9FF" stroke="#A8A8A8" stroke-width="0.45"/>
<rect x="459.13" y="304.17" width="13.33" height="8.66" fill="#FFECEC" stroke="#A8A8A8" stroke-width="0.45"/>
<rect x="472.46" y="304.17" width="13.33" height="8.66" fill="#CCCCFF" stroke="#A8A8A8" stroke-width="0.45"/>
<rect x="325.80" y="312.83" width="13.33" height="8.66" fill="#FF9696" stroke="#A8A8A8" stroke-width="0.45"/>
<rect x="339.13" y="312.83" width="13.33" height="8.66" fill="#FFECEC" stroke="#A8A8A8" stroke-width="0.45"/>
<rect x="352.47" y="312.83" width="13.33" height="8.66" fill="#FFB9B9" stroke="#A8A8A8" stroke-width="0.45"/>
<rect x="365.80" y="312.83" width="13.33" height="8.66" fill="#FFECEC" stroke="#A8A8A8" stroke-width="0.45"/>
<rect x="379.13" y="312.83" width="13.33" height="8.66" fill="#FF9696" stroke="#A8A8A8" stroke-width="0.45"/>
<rect x="392.47" y="312.83" width="13.33" height="8.66" fill="#FFECEC" stroke="#A8A8A8" stroke-width="0.45"/>
<rect x="405.80" y="312.83" width="13.33" height="8.66" fill="#8F8FFF" stroke="#A8A8A8" stroke-width="0.45"/>
<rect x="419.13" y="312.83" width="13.33" height="8.66" fill="#D2D2FF" stroke="#A8A8A8" stroke-width="0.45"/>
<rect x="432.46" y="312.83" width="13.33" height="8.66" fill="#DFDFFF" stroke="#A8A8A8" stroke-width="0.45"/>
<rect x="445.80" y="312.83" width="13.33" height="8.66" fill="#DFDFFF" stroke="#A8A8A8" stroke-width="0.45"/>
<rect x="459.13" y="312.83" width="13.33" height="8.66" fill="#D9D9FF" stroke="#A8A8A8" stroke-width="0.45"/>
<rect x="472.46" y="312.83" width="13.33" height="8.66" fill="#A9A9FF" stroke="#A8A8A8" stroke-width="0.45"/>
<rect x="325.80" y="321.49" width="13.33" height="8.66" fill="#FFBCBC" stroke="#A8A8A8" stroke-width="0.45"/>
<rect x="339.13" y="321.49" width="13.33" height="8.66" fill="#FFB6B6" stroke="#A8A8A8" stroke-width="0.45"/>
<rect x="352.47" y="321.49" width="13.33" height="8.66" fill="#FFC9C9" stroke="#A8A8A8" stroke-width="0.45"/>
<rect x="365.80" y="321.49" width="13.33" height="8.66" fill="#FF9999" stroke="#A8A8A8" stroke-width="0.45"/>
<rect x="379.13" y="321.49" width="13.33" height="8.66" fill="#FFBCBC" stroke="#A8A8A8" stroke-width="0.45"/>
<rect x="392.47" y="321.49" width="13.33" height="8.66" fill="#FCFCFF" stroke="#A8A8A8" stroke-width="0.45"/>
<rect x="405.80" y="321.49" width="13.33" height="8.66" fill="#A6A6FF" stroke="#A8A8A8" stroke-width="0.45"/>
<rect x="419.13" y="321.49" width="13.33" height="8.66" fill="#BCBCFF" stroke="#A8A8A8" stroke-width="0.45"/>
<rect x="432.46" y="321.49" width="13.33" height="8.66" fill="#C6C6FF" stroke="#A8A8A8" stroke-width="0.45"/>
<rect x="445.80" y="321.49" width="13.33" height="8.66" fill="#BFBFFF" stroke="#A8A8A8" stroke-width="0.45"/>
<rect x="459.13" y="321.49" width="13.33" height="8.66" fill="#D6D6FF" stroke="#A8A8A8" stroke-width="0.45"/>
<rect x="472.46" y="321.49" width="13.33" height="8.66" fill="#CCCCFF" stroke="#A8A8A8" stroke-width="0.45"/>
<rect x="325.80" y="330.15" width="13.33" height="8.66" fill="#FFA6A6" stroke="#A8A8A8" stroke-width="0.45"/>
<rect x="339.13" y="330.15" width="13.33" height="8.66" fill="#FFD2D2" stroke="#A8A8A8" stroke-width="0.45"/>
<rect x="352.47" y="330.15" width="13.33" height="8.66" fill="#FFDFDF" stroke="#A8A8A8" stroke-width="0.45"/>
<rect x="365.80" y="330.15" width="13.33" height="8.66" fill="#FF9696" stroke="#A8A8A8" stroke-width="0.45"/>
<rect x="379.13" y="330.15" width="13.33" height="8.66" fill="#FFC6C6" stroke="#A8A8A8" stroke-width="0.45"/>
<rect x="392.47" y="330.15" width="13.33" height="8.66" fill="#FFEFEF" stroke="#A8A8A8" stroke-width="0.45"/>
<rect x="405.80" y="330.15" width="13.33" height="8.66" fill="#9999FF" stroke="#A8A8A8" stroke-width="0.45"/>
<rect x="419.13" y="330.15" width="13.33" height="8.66" fill="#ACACFF" stroke="#A8A8A8" stroke-width="0.45"/>
<rect x="432.46" y="330.15" width="13.33" height="8.66" fill="#C9C9FF" stroke="#A8A8A8" stroke-width="0.45"/>
<rect x="445.80" y="330.15" width="13.33" height="8.66" fill="#C6C6FF" stroke="#A8A8A8" stroke-width="0.45"/>
<rect x="459.13" y="330.15" width="13.33" height="8.66" fill="#E9E9FF" stroke="#A8A8A8" stroke-width="0.45"/>
<rect x="472.46" y="330.15" width="13.33" height="8.66" fill="#CCCCFF" stroke="#A8A8A8" stroke-width="0.45"/>
<rect x="325.80" y="338.81" width="13.33" height="8.66" fill="#FF8080" stroke="#A8A8A8" stroke-width="0.45"/>
<rect x="339.13" y="338.81" width="13.33" height="8.66" fill="#FFB9B9" stroke="#A8A8A8" stroke-width="0.45"/>
<rect x="352.47" y="338.81" width="13.33" height="8.66" fill="#FFFFFF" stroke="#A8A8A8" stroke-width="0.45"/>
<rect x="365.80" y="338.81" width="13.33" height="8.66" fill="#FFD7D7" stroke="#A8A8A8" stroke-width="0.45"/>
<rect x="379.13" y="338.81" width="13.33" height="8.66" fill="#FFA7A7" stroke="#A8A8A8" stroke-width="0.45"/>
<rect x="392.47" y="338.81" width="13.33" height="8.66" fill="#E9E9FF" stroke="#A8A8A8" stroke-width="0.45"/>
<rect x="405.80" y="338.81" width="13.33" height="8.66" fill="#C7C7FF" stroke="#A8A8A8" stroke-width="0.45"/>
<rect x="419.13" y="338.81" width="13.33" height="8.66" fill="#C7C7FF" stroke="#A8A8A8" stroke-width="0.45"/>
<rect x="432.46" y="338.81" width="13.33" height="8.66" fill="#C2C2FF" stroke="#A8A8A8" stroke-width="0.45"/>
<rect x="445.80" y="338.81" width="13.33" height="8.66" fill="#C1C1FF" stroke="#A8A8A8" stroke-width="0.45"/>
<rect x="459.13" y="338.81" width="13.33" height="8.66" fill="#D6D6FF" stroke="#A8A8A8" stroke-width="0.45"/>
<rect x="472.46" y="338.81" width="13.33" height="8.66" fill="#D7D7FF" stroke="#A8A8A8" stroke-width="0.45"/>
<rect x="325.80" y="347.47" width="13.33" height="8.66" fill="#FF9696" stroke="#A8A8A8" stroke-width="0.45"/>
<rect x="339.13" y="347.47" width="13.33" height="8.66" fill="#FF8F8F" stroke="#A8A8A8" stroke-width="0.45"/>
<rect x="352.47" y="347.47" width="13.33" height="8.66" fill="#FFF5F5" stroke="#A8A8A8" stroke-width="0.45"/>
<rect x="365.80" y="347.47" width="13.33" height="8.66" fill="#FFCCCC" stroke="#A8A8A8" stroke-width="0.45"/>
<rect x="379.13" y="347.47" width="13.33" height="8.66" fill="#FFAFAF" stroke="#A8A8A8" stroke-width="0.45"/>
<rect x="392.47" y="347.47" width="13.33" height="8.66" fill="#EFEFFF" stroke="#A8A8A8" stroke-width="0.45"/>
<rect x="405.80" y="347.47" width="13.33" height="8.66" fill="#BFBFFF" stroke="#A8A8A8" stroke-width="0.45"/>
<rect x="419.13" y="347.47" width="13.33" height="8.66" fill="#CCCCFF" stroke="#A8A8A8" stroke-width="0.45"/>
<rect x="432.46" y="347.47" width="13.33" height="8.66" fill="#B9B9FF" stroke="#A8A8A8" stroke-width="0.45"/>
<rect x="445.80" y="347.47" width="13.33" height="8.66" fill="#C6C6FF" stroke="#A8A8A8" stroke-width="0.45"/>
<rect x="459.13" y="347.47" width="13.33" height="8.66" fill="#DFDFFF" stroke="#A8A8A8" stroke-width="0.45"/>
<rect x="472.46" y="347.47" width="13.33" height="8.66" fill="#CCCCFF" stroke="#A8A8A8" stroke-width="0.45"/>
<rect x="325.80" y="356.13" width="13.33" height="8.66" fill="#FF9696" stroke="#A8A8A8" stroke-width="0.45"/>
<rect x="339.13" y="356.13" width="13.33" height="8.66" fill="#FF8686" stroke="#A8A8A8" stroke-width="0.45"/>
<rect x="352.47" y="356.13" width="13.33" height="8.66" fill="#FFECEC" stroke="#A8A8A8" stroke-width="0.45"/>
<rect x="365.80" y="356.13" width="13.33" height="8.66" fill="#FFECEC" stroke="#A8A8A8" stroke-width="0.45"/>
<rect x="379.13" y="356.13" width="13.33" height="8.66" fill="#FFA9A9" stroke="#A8A8A8" stroke-width="0.45"/>
<rect x="392.47" y="356.13" width="13.33" height="8.66" fill="#F5F5FF" stroke="#A8A8A8" stroke-width="0.45"/>
<rect x="405.80" y="356.13" width="13.33" height="8.66" fill="#ACACFF" stroke="#A8A8A8" stroke-width="0.45"/>
<rect x="419.13" y="356.13" width="13.33" height="8.66" fill="#C2C2FF" stroke="#A8A8A8" stroke-width="0.45"/>
<rect x="432.46" y="356.13" width="13.33" height="8.66" fill="#C6C6FF" stroke="#A8A8A8" stroke-width="0.45"/>
<rect x="445.80" y="356.13" width="13.33" height="8.66" fill="#D6D6FF" stroke="#A8A8A8" stroke-width="0.45"/>
<rect x="459.13" y="356.13" width="13.33" height="8.66" fill="#D9D9FF" stroke="#A8A8A8" stroke-width="0.45"/>
<rect x="472.46" y="356.13" width="13.33" height="8.66" fill="#C6C6FF" stroke="#A8A8A8" stroke-width="0.45"/>
<rect x="325.80" y="364.79" width="13.33" height="8.66" fill="#F5F5FF" stroke="#A8A8A8" stroke-width="0.45"/>
<rect x="339.13" y="364.79" width="13.33" height="8.66" fill="#FF5656" stroke="#A8A8A8" stroke-width="0.45"/>
<rect x="352.47" y="364.79" width="13.33" height="8.66" fill="#FFC6C6" stroke="#A8A8A8" stroke-width="0.45"/>
<rect x="365.80" y="364.79" width="13.33" height="8.66" fill="#FFD6D6" stroke="#A8A8A8" stroke-width="0.45"/>
<rect x="379.13" y="364.79" width="13.33" height="8.66" fill="#FCFCFF" stroke="#A8A8A8" stroke-width="0.45"/>
<rect x="392.47" y="364.79" width="13.33" height="8.66" fill="#E6E6FF" stroke="#A8A8A8" stroke-width="0.45"/>
<rect x="405.80" y="364.79" width="13.33" height="8.66" fill="#DFDFFF" stroke="#A8A8A8" stroke-width="0.45"/>
<rect x="419.13" y="364.79" width="13.33" height="8.66" fill="#CCCCFF" stroke="#A8A8A8" stroke-width="0.45"/>
<rect x="432.46" y="364.79" width="13.33" height="8.66" fill="#C6C6FF" stroke="#A8A8A8" stroke-width="0.45"/>
<rect x="445.80" y="364.79" width="13.33" height="8.66" fill="#D2D2FF" stroke="#A8A8A8" stroke-width="0.45"/>
<rect x="459.13" y="364.79" width="13.33" height="8.66" fill="#EFEFFF" stroke="#A8A8A8" stroke-width="0.45"/>
<rect x="472.46" y="364.79" width="13.33" height="8.66" fill="#BFBFFF" stroke="#A8A8A8" stroke-width="0.45"/>
<rect x="325.80" y="373.45" width="13.33" height="8.66" fill="#FFBFBF" stroke="#A8A8A8" stroke-width="0.45"/>
<rect x="339.13" y="373.45" width="13.33" height="8.66" fill="#FFBFBF" stroke="#A8A8A8" stroke-width="0.45"/>
<rect x="352.47" y="373.45" width="13.33" height="8.66" fill="#FF7676" stroke="#A8A8A8" stroke-width="0.45"/>
<rect x="365.80" y="373.45" width="13.33" height="8.66" fill="#FFCCCC" stroke="#A8A8A8" stroke-width="0.45"/>
<rect x="379.13" y="373.45" width="13.33" height="8.66" fill="#E6E6FF" stroke="#A8A8A8" stroke-width="0.45"/>
<rect x="392.47" y="373.45" width="13.33" height="8.66" fill="#FFECEC" stroke="#A8A8A8" stroke-width="0.45"/>
<rect x="405.80" y="373.45" width="13.33" height="8.66" fill="#C9C9FF" stroke="#A8A8A8" stroke-width="0.45"/>
<rect x="419.13" y="373.45" width="13.33" height="8.66" fill="#D9D9FF" stroke="#A8A8A8" stroke-width="0.45"/>
<rect x="432.46" y="373.45" width="13.33" height="8.66" fill="#AFAFFF" stroke="#A8A8A8" stroke-width="0.45"/>
<rect x="445.80" y="373.45" width="13.33" height="8.66" fill="#BFBFFF" stroke="#A8A8A8" stroke-width="0.45"/>
<rect x="459.13" y="373.45" width="13.33" height="8.66" fill="#D9D9FF" stroke="#A8A8A8" stroke-width="0.45"/>
<rect x="472.46" y="373.45" width="13.33" height="8.66" fill="#DCDCFF" stroke="#A8A8A8" stroke-width="0.45"/>
<rect x="325.80" y="382.12" width="13.33" height="8.66" fill="#FFDFDF" stroke="#A8A8A8" stroke-width="0.45"/>
<rect x="339.13" y="382.12" width="13.33" height="8.66" fill="#FFECEC" stroke="#A8A8A8" stroke-width="0.45"/>
<rect x="352.47" y="382.12" width="13.33" height="8.66" fill="#FF7676" stroke="#A8A8A8" stroke-width="0.45"/>
<rect x="365.80" y="382.12" width="13.33" height="8.66" fill="#FFA6A6" stroke="#A8A8A8" stroke-width="0.45"/>
<rect x="379.13" y="382.12" width="13.33" height="8.66" fill="#FFD9D9" stroke="#A8A8A8" stroke-width="0.45"/>
<rect x="392.47" y="382.12" width="13.33" height="8.66" fill="#F5F5FF" stroke="#A8A8A8" stroke-width="0.45"/>
<rect x="405.80" y="382.12" width="13.33" height="8.66" fill="#BCBCFF" stroke="#A8A8A8" stroke-width="0.45"/>
<rect x="419.13" y="382.12" width="13.33" height="8.66" fill="#BCBCFF" stroke="#A8A8A8" stroke-width="0.45"/>
<rect x="432.46" y="382.12" width="13.33" height="8.66" fill="#B6B6FF" stroke="#A8A8A8" stroke-width="0.45"/>
<rect x="445.80" y="382.12" width="13.33" height="8.66" fill="#D6D6FF" stroke="#A8A8A8" stroke-width="0.45"/>
<rect x="459.13" y="382.12" width="13.33" height="8.66" fill="#D6D6FF" stroke="#A8A8A8" stroke-width="0.45"/>
<rect x="472.46" y="382.12" width="13.33" height="8.66" fill="#E6E6FF" stroke="#A8A8A8" stroke-width="0.45"/>
<rect x="325.80" y="390.78" width="13.33" height="8.66" fill="#FFC9C9" stroke="#A8A8A8" stroke-width="0.45"/>
<rect x="339.13" y="390.78" width="13.33" height="8.66" fill="#FFD6D6" stroke="#A8A8A8" stroke-width="0.45"/>
<rect x="352.47" y="390.78" width="13.33" height="8.66" fill="#FF7676" stroke="#A8A8A8" stroke-width="0.45"/>
<rect x="365.80" y="390.78" width="13.33" height="8.66" fill="#FFA6A6" stroke="#A8A8A8" stroke-width="0.45"/>
<rect x="379.13" y="390.78" width="13.33" height="8.66" fill="#FFFFFF" stroke="#A8A8A8" stroke-width="0.45"/>
<rect x="392.47" y="390.78" width="13.33" height="8.66" fill="#E6E6FF" stroke="#A8A8A8" stroke-width="0.45"/>
<rect x="405.80" y="390.78" width="13.33" height="8.66" fill="#CCCCFF" stroke="#A8A8A8" stroke-width="0.45"/>
<rect x="419.13" y="390.78" width="13.33" height="8.66" fill="#C9C9FF" stroke="#A8A8A8" stroke-width="0.45"/>
<rect x="432.46" y="390.78" width="13.33" height="8.66" fill="#B9B9FF" stroke="#A8A8A8" stroke-width="0.45"/>
<rect x="445.80" y="390.78" width="13.33" height="8.66" fill="#C9C9FF" stroke="#A8A8A8" stroke-width="0.45"/>
<rect x="459.13" y="390.78" width="13.33" height="8.66" fill="#DCDCFF" stroke="#A8A8A8" stroke-width="0.45"/>
<rect x="472.46" y="390.78" width="13.33" height="8.66" fill="#D9D9FF" stroke="#A8A8A8" stroke-width="0.45"/>
<rect x="325.80" y="399.44" width="13.33" height="8.66" fill="#FFE6E6" stroke="#A8A8A8" stroke-width="0.45"/>
<rect x="339.13" y="399.44" width="13.33" height="8.66" fill="#FFA6A6" stroke="#A8A8A8" stroke-width="0.45"/>
<rect x="352.47" y="399.44" width="13.33" height="8.66" fill="#FF8686" stroke="#A8A8A8" stroke-width="0.45"/>
<rect x="365.80" y="399.44" width="13.33" height="8.66" fill="#FFC6C6" stroke="#A8A8A8" stroke-width="0.45"/>
<rect x="379.13" y="399.44" width="13.33" height="8.66" fill="#FFC9C9" stroke="#A8A8A8" stroke-width="0.45"/>
<rect x="392.47" y="399.44" width="13.33" height="8.66" fill="#EFEFFF" stroke="#A8A8A8" stroke-width="0.45"/>
<rect x="405.80" y="399.44" width="13.33" height="8.66" fill="#BCBCFF" stroke="#A8A8A8" stroke-width="0.45"/>
<rect x="419.13" y="399.44" width="13.33" height="8.66" fill="#BCBCFF" stroke="#A8A8A8" stroke-width="0.45"/>
<rect x="432.46" y="399.44" width="13.33" height="8.66" fill="#C6C6FF" stroke="#A8A8A8" stroke-width="0.45"/>
<rect x="445.80" y="399.44" width="13.33" height="8.66" fill="#C6C6FF" stroke="#A8A8A8" stroke-width="0.45"/>
<rect x="459.13" y="399.44" width="13.33" height="8.66" fill="#D6D6FF" stroke="#A8A8A8" stroke-width="0.45"/>
<rect x="472.46" y="399.44" width="13.33" height="8.66" fill="#D6D6FF" stroke="#A8A8A8" stroke-width="0.45"/>
<rect x="325.80" y="408.10" width="13.33" height="8.66" fill="#FFEFEF" stroke="#A8A8A8" stroke-width="0.45"/>
<rect x="339.13" y="408.10" width="13.33" height="8.66" fill="#FF8686" stroke="#A8A8A8" stroke-width="0.45"/>
<rect x="352.47" y="408.10" width="13.33" height="8.66" fill="#FF8989" stroke="#A8A8A8" stroke-width="0.45"/>
<rect x="365.80" y="408.10" width="13.33" height="8.66" fill="#FFB9B9" stroke="#A8A8A8" stroke-width="0.45"/>
<rect x="379.13" y="408.10" width="13.33" height="8.66" fill="#F5F5FF" stroke="#A8A8A8" stroke-width="0.45"/>
<rect x="392.47" y="408.10" width="13.33" height="8.66" fill="#F9F9FF" stroke="#A8A8A8" stroke-width="0.45"/>
<rect x="405.80" y="408.10" width="13.33" height="8.66" fill="#C9C9FF" stroke="#A8A8A8" stroke-width="0.45"/>
<rect x="419.13" y="408.10" width="13.33" height="8.66" fill="#BCBCFF" stroke="#A8A8A8" stroke-width="0.45"/>
<rect x="432.46" y="408.10" width="13.33" height="8.66" fill="#C6C6FF" stroke="#A8A8A8" stroke-width="0.45"/>
<rect x="445.80" y="408.10" width="13.33" height="8.66" fill="#BFBFFF" stroke="#A8A8A8" stroke-width="0.45"/>
<rect x="459.13" y="408.10" width="13.33" height="8.66" fill="#F2F2FF" stroke="#A8A8A8" stroke-width="0.45"/>
<rect x="472.46" y="408.10" width="13.33" height="8.66" fill="#BFBFFF" stroke="#A8A8A8" stroke-width="0.45"/>
<rect x="325.80" y="416.76" width="13.33" height="8.66" fill="#FFE6E6" stroke="#A8A8A8" stroke-width="0.45"/>
<rect x="339.13" y="416.76" width="13.33" height="8.66" fill="#FF9999" stroke="#A8A8A8" stroke-width="0.45"/>
<rect x="352.47" y="416.76" width="13.33" height="8.66" fill="#FF8989" stroke="#A8A8A8" stroke-width="0.45"/>
<rect x="365.80" y="416.76" width="13.33" height="8.66" fill="#FFAFAF" stroke="#A8A8A8" stroke-width="0.45"/>
<rect x="379.13" y="416.76" width="13.33" height="8.66" fill="#FFE9E9" stroke="#A8A8A8" stroke-width="0.45"/>
<rect x="392.47" y="416.76" width="13.33" height="8.66" fill="#EFEFFF" stroke="#A8A8A8" stroke-width="0.45"/>
<rect x="405.80" y="416.76" width="13.33" height="8.66" fill="#AFAFFF" stroke="#A8A8A8" stroke-width="0.45"/>
<rect x="419.13" y="416.76" width="13.33" height="8.66" fill="#B6B6FF" stroke="#A8A8A8" stroke-width="0.45"/>
<rect x="432.46" y="416.76" width="13.33" height="8.66" fill="#B6B6FF" stroke="#A8A8A8" stroke-width="0.45"/>
<rect x="445.80" y="416.76" width="13.33" height="8.66" fill="#B9B9FF" stroke="#A8A8A8" stroke-width="0.45"/>
<rect x="459.13" y="416.76" width="13.33" height="8.66" fill="#F9F9FF" stroke="#A8A8A8" stroke-width="0.45"/>
<rect x="472.46" y="416.76" width="13.33" height="8.66" fill="#E6E6FF" stroke="#A8A8A8" stroke-width="0.45"/>
<rect x="325.80" y="425.42" width="13.33" height="8.66" fill="#FFACAC" stroke="#A8A8A8" stroke-width="0.45"/>
<rect x="339.13" y="425.42" width="13.33" height="8.66" fill="#FFBFBF" stroke="#A8A8A8" stroke-width="0.45"/>
<rect x="352.47" y="425.42" width="13.33" height="8.66" fill="#FFA6A6" stroke="#A8A8A8" stroke-width="0.45"/>
<rect x="365.80" y="425.42" width="13.33" height="8.66" fill="#FF9999" stroke="#A8A8A8" stroke-width="0.45"/>
<rect x="379.13" y="425.42" width="13.33" height="8.66" fill="#FFDFDF" stroke="#A8A8A8" stroke-width="0.45"/>
<rect x="392.47" y="425.42" width="13.33" height="8.66" fill="#DFDFFF" stroke="#A8A8A8" stroke-width="0.45"/>
<rect x="405.80" y="425.42" width="13.33" height="8.66" fill="#A3A3FF" stroke="#A8A8A8" stroke-width="0.45"/>
<rect x="419.13" y="425.42" width="13.33" height="8.66" fill="#B6B6FF" stroke="#A8A8A8" stroke-width="0.45"/>
<rect x="432.46" y="425.42" width="13.33" height="8.66" fill="#D2D2FF" stroke="#A8A8A8" stroke-width="0.45"/>
<rect x="445.80" y="425.42" width="13.33" height="8.66" fill="#BFBFFF" stroke="#A8A8A8" stroke-width="0.45"/>
<rect x="459.13" y="425.42" width="13.33" height="8.66" fill="#DCDCFF" stroke="#A8A8A8" stroke-width="0.45"/>
<rect x="472.46" y="425.42" width="13.33" height="8.66" fill="#E6E6FF" stroke="#A8A8A8" stroke-width="0.45"/>
<rect x="325.80" y="434.08" width="13.33" height="8.66" fill="#FFA6A6" stroke="#A8A8A8" stroke-width="0.45"/>
<rect x="339.13" y="434.08" width="13.33" height="8.66" fill="#FFC9C9" stroke="#A8A8A8" stroke-width="0.45"/>
<rect x="352.47" y="434.08" width="13.33" height="8.66" fill="#FF8F8F" stroke="#A8A8A8" stroke-width="0.45"/>
<rect x="365.80" y="434.08" width="13.33" height="8.66" fill="#FFB6B6" stroke="#A8A8A8" stroke-width="0.45"/>
<rect x="379.13" y="434.08" width="13.33" height="8.66" fill="#FFECEC" stroke="#A8A8A8" stroke-width="0.45"/>
<rect x="392.47" y="434.08" width="13.33" height="8.66" fill="#E6E6FF" stroke="#A8A8A8" stroke-width="0.45"/>
<rect x="405.80" y="434.08" width="13.33" height="8.66" fill="#A9A9FF" stroke="#A8A8A8" stroke-width="0.45"/>
<rect x="419.13" y="434.08" width="13.33" height="8.66" fill="#B6B6FF" stroke="#A8A8A8" stroke-width="0.45"/>
<rect x="432.46" y="434.08" width="13.33" height="8.66" fill="#CFCFFF" stroke="#A8A8A8" stroke-width="0.45"/>
<rect x="445.80" y="434.08" width="13.33" height="8.66" fill="#C6C6FF" stroke="#A8A8A8" stroke-width="0.45"/>
<rect x="459.13" y="434.08" width="13.33" height="8.66" fill="#D9D9FF" stroke="#A8A8A8" stroke-width="0.45"/>
<rect x="472.46" y="434.08" width="13.33" height="8.66" fill="#EFEFFF" stroke="#A8A8A8" stroke-width="0.45"/>
<rect x="325.80" y="442.74" width="13.33" height="8.66" fill="#FFBCBC" stroke="#A8A8A8" stroke-width="0.45"/>
<rect x="339.13" y="442.74" width="13.33" height="8.66" fill="#FFBFBF" stroke="#A8A8A8" stroke-width="0.45"/>
<rect x="352.47" y="442.74" width="13.33" height="8.66" fill="#FF8989" stroke="#A8A8A8" stroke-width="0.45"/>
<rect x="365.80" y="442.74" width="13.33" height="8.66" fill="#FFA6A6" stroke="#A8A8A8" stroke-width="0.45"/>
<rect x="379.13" y="442.74" width="13.33" height="8.66" fill="#FFF5F5" stroke="#A8A8A8" stroke-width="0.45"/>
<rect x="392.47" y="442.74" width="13.33" height="8.66" fill="#E9E9FF" stroke="#A8A8A8" stroke-width="0.45"/>
<rect x="405.80" y="442.74" width="13.33" height="8.66" fill="#AFAFFF" stroke="#A8A8A8" stroke-width="0.45"/>
<rect x="419.13" y="442.74" width="13.33" height="8.66" fill="#BFBFFF" stroke="#A8A8A8" stroke-width="0.45"/>
<rect x="432.46" y="442.74" width="13.33" height="8.66" fill="#B2B2FF" stroke="#A8A8A8" stroke-width="0.45"/>
<rect x="445.80" y="442.74" width="13.33" height="8.66" fill="#BFBFFF" stroke="#A8A8A8" stroke-width="0.45"/>
<rect x="459.13" y="442.74" width="13.33" height="8.66" fill="#E2E2FF" stroke="#A8A8A8" stroke-width="0.45"/>
<rect x="472.46" y="442.74" width="13.33" height="8.66" fill="#D2D2FF" stroke="#A8A8A8" stroke-width="0.45"/>
<rect x="325.80" y="451.40" width="13.33" height="8.66" fill="#FFD6D6" stroke="#A8A8A8" stroke-width="0.45"/>
<rect x="339.13" y="451.40" width="13.33" height="8.66" fill="#FFA9A9" stroke="#A8A8A8" stroke-width="0.45"/>
<rect x="352.47" y="451.40" width="13.33" height="8.66" fill="#FF8686" stroke="#A8A8A8" stroke-width="0.45"/>
<rect x="365.80" y="451.40" width="13.33" height="8.66" fill="#FFA9A9" stroke="#A8A8A8" stroke-width="0.45"/>
<rect x="379.13" y="451.40" width="13.33" height="8.66" fill="#FFFFFF" stroke="#A8A8A8" stroke-width="0.45"/>
<rect x="392.47" y="451.40" width="13.33" height="8.66" fill="#FCFCFF" stroke="#A8A8A8" stroke-width="0.45"/>
<rect x="405.80" y="451.40" width="13.33" height="8.66" fill="#C6C6FF" stroke="#A8A8A8" stroke-width="0.45"/>
<rect x="419.13" y="451.40" width="13.33" height="8.66" fill="#BCBCFF" stroke="#A8A8A8" stroke-width="0.45"/>
<rect x="432.46" y="451.40" width="13.33" height="8.66" fill="#B2B2FF" stroke="#A8A8A8" stroke-width="0.45"/>
<rect x="445.80" y="451.40" width="13.33" height="8.66" fill="#BFBFFF" stroke="#A8A8A8" stroke-width="0.45"/>
<rect x="459.13" y="451.40" width="13.33" height="8.66" fill="#E2E2FF" stroke="#A8A8A8" stroke-width="0.45"/>
<rect x="472.46" y="451.40" width="13.33" height="8.66" fill="#D6D6FF" stroke="#A8A8A8" stroke-width="0.45"/>
<rect x="325.80" y="460.06" width="13.33" height="8.66" fill="#FFB6B6" stroke="#A8A8A8" stroke-width="0.45"/>
<rect x="339.13" y="460.06" width="13.33" height="8.66" fill="#FFA9A9" stroke="#A8A8A8" stroke-width="0.45"/>
<rect x="352.47" y="460.06" width="13.33" height="8.66" fill="#FF8989" stroke="#A8A8A8" stroke-width="0.45"/>
<rect x="365.80" y="460.06" width="13.33" height="8.66" fill="#FFA6A6" stroke="#A8A8A8" stroke-width="0.45"/>
<rect x="379.13" y="460.06" width="13.33" height="8.66" fill="#FCFCFF" stroke="#A8A8A8" stroke-width="0.45"/>
<rect x="392.47" y="460.06" width="13.33" height="8.66" fill="#EFEFFF" stroke="#A8A8A8" stroke-width="0.45"/>
<rect x="405.80" y="460.06" width="13.33" height="8.66" fill="#C6C6FF" stroke="#A8A8A8" stroke-width="0.45"/>
<rect x="419.13" y="460.06" width="13.33" height="8.66" fill="#C2C2FF" stroke="#A8A8A8" stroke-width="0.45"/>
<rect x="432.46" y="460.06" width="13.33" height="8.66" fill="#B2B2FF" stroke="#A8A8A8" stroke-width="0.45"/>
<rect x="445.80" y="460.06" width="13.33" height="8.66" fill="#BCBCFF" stroke="#A8A8A8" stroke-width="0.45"/>
<rect x="459.13" y="460.06" width="13.33" height="8.66" fill="#E6E6FF" stroke="#A8A8A8" stroke-width="0.45"/>
<rect x="472.46" y="460.06" width="13.33" height="8.66" fill="#C6C6FF" stroke="#A8A8A8" stroke-width="0.45"/>
<rect x="325.80" y="468.72" width="13.33" height="8.66" fill="#FFBCBC" stroke="#A8A8A8" stroke-width="0.45"/>
<rect x="339.13" y="468.72" width="13.33" height="8.66" fill="#FFA9A9" stroke="#A8A8A8" stroke-width="0.45"/>
<rect x="352.47" y="468.72" width="13.33" height="8.66" fill="#FF9999" stroke="#A8A8A8" stroke-width="0.45"/>
<rect x="365.80" y="468.72" width="13.33" height="8.66" fill="#FF8F8F" stroke="#A8A8A8" stroke-width="0.45"/>
<rect x="379.13" y="468.72" width="13.33" height="8.66" fill="#FFEFEF" stroke="#A8A8A8" stroke-width="0.45"/>
<rect x="392.47" y="468.72" width="13.33" height="8.66" fill="#E9E9FF" stroke="#A8A8A8" stroke-width="0.45"/>
<rect x="405.80" y="468.72" width="13.33" height="8.66" fill="#CCCCFF" stroke="#A8A8A8" stroke-width="0.45"/>
<rect x="419.13" y="468.72" width="13.33" height="8.66" fill="#AFAFFF" stroke="#A8A8A8" stroke-width="0.45"/>
<rect x="432.46" y="468.72" width="13.33" height="8.66" fill="#BCBCFF" stroke="#A8A8A8" stroke-width="0.45"/>
<rect x="445.80" y="468.72" width="13.33" height="8.66" fill="#BCBCFF" stroke="#A8A8A8" stroke-width="0.45"/>
<rect x="459.13" y="468.72" width="13.33" height="8.66" fill="#D6D6FF" stroke="#A8A8A8" stroke-width="0.45"/>
<rect x="472.46" y="468.72" width="13.33" height="8.66" fill="#F5F5FF" stroke="#A8A8A8" stroke-width="0.45"/>
<rect x="325.80" y="477.39" width="13.33" height="8.66" fill="#FFB6B6" stroke="#A8A8A8" stroke-width="0.45"/>
<rect x="339.13" y="477.39" width="13.33" height="8.66" fill="#FFA9A9" stroke="#A8A8A8" stroke-width="0.45"/>
<rect x="352.47" y="477.39" width="13.33" height="8.66" fill="#FF9696" stroke="#A8A8A8" stroke-width="0.45"/>
<rect x="365.80" y="477.39" width="13.33" height="8.66" fill="#FF8C8C" stroke="#A8A8A8" stroke-width="0.45"/>
<rect x="379.13" y="477.39" width="13.33" height="8.66" fill="#F2F2FF" stroke="#A8A8A8" stroke-width="0.45"/>
<rect x="392.47" y="477.39" width="13.33" height="8.66" fill="#D9D9FF" stroke="#A8A8A8" stroke-width="0.45"/>
<rect x="405.80" y="477.39" width="13.33" height="8.66" fill="#AFAFFF" stroke="#A8A8A8" stroke-width="0.45"/>
<rect x="419.13" y="477.39" width="13.33" height="8.66" fill="#C6C6FF" stroke="#A8A8A8" stroke-width="0.45"/>
<rect x="432.46" y="477.39" width="13.33" height="8.66" fill="#BCBCFF" stroke="#A8A8A8" stroke-width="0.45"/>
<rect x="445.80" y="477.39" width="13.33" height="8.66" fill="#C9C9FF" stroke="#A8A8A8" stroke-width="0.45"/>
<rect x="459.13" y="477.39" width="13.33" height="8.66" fill="#EFEFFF" stroke="#A8A8A8" stroke-width="0.45"/>
<rect x="472.46" y="477.39" width="13.33" height="8.66" fill="#DFDFFF" stroke="#A8A8A8" stroke-width="0.45"/>
<rect x="325.80" y="486.05" width="13.33" height="8.66" fill="#FFDFDF" stroke="#A8A8A8" stroke-width="0.45"/>
<rect x="339.13" y="486.05" width="13.33" height="8.66" fill="#FFD7D7" stroke="#A8A8A8" stroke-width="0.45"/>
<rect x="352.47" y="486.05" width="13.33" height="8.66" fill="#FF8787" stroke="#A8A8A8" stroke-width="0.45"/>
<rect x="365.80" y="486.05" width="13.33" height="8.66" fill="#FFCCCC" stroke="#A8A8A8" stroke-width="0.45"/>
<rect x="379.13" y="486.05" width="13.33" height="8.66" fill="#FFB6B6" stroke="#A8A8A8" stroke-width="0.45"/>
<rect x="392.47" y="486.05" width="13.33" height="8.66" fill="#FFDCDC" stroke="#A8A8A8" stroke-width="0.45"/>
<rect x="405.80" y="486.05" width="13.33" height="8.66" fill="#B4B4FF" stroke="#A8A8A8" stroke-width="0.45"/>
<rect x="419.13" y="486.05" width="13.33" height="8.66" fill="#B8B8FF" stroke="#A8A8A8" stroke-width="0.45"/>
<rect x="432.46" y="486.05" width="13.33" height="8.66" fill="#ACACFF" stroke="#A8A8A8" stroke-width="0.45"/>
<rect x="445.80" y="486.05" width="13.33" height="8.66" fill="#C4C4FF" stroke="#A8A8A8" stroke-width="0.45"/>
<rect x="459.13" y="486.05" width="13.33" height="8.66" fill="#C4C4FF" stroke="#A8A8A8" stroke-width="0.45"/>
<rect x="472.46" y="486.05" width="13.33" height="8.66" fill="#F5F5FF" stroke="#A8A8A8" stroke-width="0.45"/>
<rect x="325.80" y="494.71" width="13.33" height="8.66" fill="#FFD9D9" stroke="#A8A8A8" stroke-width="0.45"/>
<rect x="339.13" y="494.71" width="13.33" height="8.66" fill="#FFCCCC" stroke="#A8A8A8" stroke-width="0.45"/>
<rect x="352.47" y="494.71" width="13.33" height="8.66" fill="#FF9F9F" stroke="#A8A8A8" stroke-width="0.45"/>
<rect x="365.80" y="494.71" width="13.33" height="8.66" fill="#FFCFCF" stroke="#A8A8A8" stroke-width="0.45"/>
<rect x="379.13" y="494.71" width="13.33" height="8.66" fill="#FFB9B9" stroke="#A8A8A8" stroke-width="0.45"/>
<rect x="392.47" y="494.71" width="13.33" height="8.66" fill="#FCFCFF" stroke="#A8A8A8" stroke-width="0.45"/>
<rect x="405.80" y="494.71" width="13.33" height="8.66" fill="#A9A9FF" stroke="#A8A8A8" stroke-width="0.45"/>
<rect x="419.13" y="494.71" width="13.33" height="8.66" fill="#A9A9FF" stroke="#A8A8A8" stroke-width="0.45"/>
<rect x="432.46" y="494.71" width="13.33" height="8.66" fill="#9F9FFF" stroke="#A8A8A8" stroke-width="0.45"/>
<rect x="445.80" y="494.71" width="13.33" height="8.66" fill="#BFBFFF" stroke="#A8A8A8" stroke-width="0.45"/>
<rect x="459.13" y="494.71" width="13.33" height="8.66" fill="#F9F9FF" stroke="#A8A8A8" stroke-width="0.45"/>
<rect x="472.46" y="494.71" width="13.33" height="8.66" fill="#FFD9D9" stroke="#A8A8A8" stroke-width="0.45"/>
<rect x="325.80" y="503.37" width="13.33" height="8.66" fill="#FF9F9F" stroke="#A8A8A8" stroke-width="0.45"/>
<rect x="339.13" y="503.37" width="13.33" height="8.66" fill="#FFB6B6" stroke="#A8A8A8" stroke-width="0.45"/>
<rect x="352.47" y="503.37" width="13.33" height="8.66" fill="#FF9999" stroke="#A8A8A8" stroke-width="0.45"/>
<rect x="365.80" y="503.37" width="13.33" height="8.66" fill="#FFDFDF" stroke="#A8A8A8" stroke-width="0.45"/>
<rect x="379.13" y="503.37" width="13.33" height="8.66" fill="#FFA6A6" stroke="#A8A8A8" stroke-width="0.45"/>
<rect x="392.47" y="503.37" width="13.33" height="8.66" fill="#D9D9FF" stroke="#A8A8A8" stroke-width="0.45"/>
<rect x="405.80" y="503.37" width="13.33" height="8.66" fill="#C6C6FF" stroke="#A8A8A8" stroke-width="0.45"/>
<rect x="419.13" y="503.37" width="13.33" height="8.66" fill="#BFBFFF" stroke="#A8A8A8" stroke-width="0.45"/>
<rect x="432.46" y="503.37" width="13.33" height="8.66" fill="#C9C9FF" stroke="#A8A8A8" stroke-width="0.45"/>
<rect x="445.80" y="503.37" width="13.33" height="8.66" fill="#CCCCFF" stroke="#A8A8A8" stroke-width="0.45"/>
<rect x="459.13" y="503.37" width="13.33" height="8.66" fill="#C9C9FF" stroke="#A8A8A8" stroke-width="0.45"/>
<rect x="472.46" y="503.37" width="13.33" height="8.66" fill="#D6D6FF" stroke="#A8A8A8" stroke-width="0.45"/>
<rect x="325.80" y="512.03" width="13.33" height="8.66" fill="#FF8080" stroke="#A8A8A8" stroke-width="0.45"/>
<rect x="339.13" y="512.03" width="13.33" height="8.66" fill="#FFD9D9" stroke="#A8A8A8" stroke-width="0.45"/>
<rect x="352.47" y="512.03" width="13.33" height="8.66" fill="#FFAFAF" stroke="#A8A8A8" stroke-width="0.45"/>
<rect x="365.80" y="512.03" width="13.33" height="8.66" fill="#FFC6C6" stroke="#A8A8A8" stroke-width="0.45"/>
<rect x="379.13" y="512.03" width="13.33" height="8.66" fill="#FFBCBC" stroke="#A8A8A8" stroke-width="0.45"/>
<rect x="392.47" y="512.03" width="13.33" height="8.66" fill="#E9E9FF" stroke="#A8A8A8" stroke-width="0.45"/>
<rect x="405.80" y="512.03" width="13.33" height="8.66" fill="#AFAFFF" stroke="#A8A8A8" stroke-width="0.45"/>
<rect x="419.13" y="512.03" width="13.33" height="8.66" fill="#B6B6FF" stroke="#A8A8A8" stroke-width="0.45"/>
<rect x="432.46" y="512.03" width="13.33" height="8.66" fill="#D9D9FF" stroke="#A8A8A8" stroke-width="0.45"/>
<rect x="445.80" y="512.03" width="13.33" height="8.66" fill="#BFBFFF" stroke="#A8A8A8" stroke-width="0.45"/>
<rect x="459.13" y="512.03" width="13.33" height="8.66" fill="#D9D9FF" stroke="#A8A8A8" stroke-width="0.45"/>
<rect x="472.46" y="512.03" width="13.33" height="8.66" fill="#DFDFFF" stroke="#A8A8A8" stroke-width="0.45"/>
<rect x="325.80" y="520.69" width="13.33" height="8.66" fill="#FF9F9F" stroke="#A8A8A8" stroke-width="0.45"/>
<rect x="339.13" y="520.69" width="13.33" height="8.66" fill="#FFCFCF" stroke="#A8A8A8" stroke-width="0.45"/>
<rect x="352.47" y="520.69" width="13.33" height="8.66" fill="#FFA6A6" stroke="#A8A8A8" stroke-width="0.45"/>
<rect x="365.80" y="520.69" width="13.33" height="8.66" fill="#FFB6B6" stroke="#A8A8A8" stroke-width="0.45"/>
<rect x="379.13" y="520.69" width="13.33" height="8.66" fill="#FFB6B6" stroke="#A8A8A8" stroke-width="0.45"/>
<rect x="392.47" y="520.69" width="13.33" height="8.66" fill="#D9D9FF" stroke="#A8A8A8" stroke-width="0.45"/>
<rect x="405.80" y="520.69" width="13.33" height="8.66" fill="#AFAFFF" stroke="#A8A8A8" stroke-width="0.45"/>
<rect x="419.13" y="520.69" width="13.33" height="8.66" fill="#ACACFF" stroke="#A8A8A8" stroke-width="0.45"/>
<rect x="432.46" y="520.69" width="13.33" height="8.66" fill="#BFBFFF" stroke="#A8A8A8" stroke-width="0.45"/>
<rect x="445.80" y="520.69" width="13.33" height="8.66" fill="#BCBCFF" stroke="#A8A8A8" stroke-width="0.45"/>
<rect x="459.13" y="520.69" width="13.33" height="8.66" fill="#E2E2FF" stroke="#A8A8A8" stroke-width="0.45"/>
<rect x="472.46" y="520.69" width="13.33" height="8.66" fill="#DFDFFF" stroke="#A8A8A8" stroke-width="0.45"/>
<rect x="325.80" y="529.35" width="13.33" height="8.66" fill="#FFA6A6" stroke="#A8A8A8" stroke-width="0.45"/>
<rect x="339.13" y="529.35" width="13.33" height="8.66" fill="#FFB6B6" stroke="#A8A8A8" stroke-width="0.45"/>
<rect x="352.47" y="529.35" width="13.33" height="8.66" fill="#FFA9A9" stroke="#A8A8A8" stroke-width="0.45"/>
<rect x="365.80" y="529.35" width="13.33" height="8.66" fill="#FFCCCC" stroke="#A8A8A8" stroke-width="0.45"/>
<rect x="379.13" y="529.35" width="13.33" height="8.66" fill="#FFE6E6" stroke="#A8A8A8" stroke-width="0.45"/>
<rect x="392.47" y="529.35" width="13.33" height="8.66" fill="#CCCCFF" stroke="#A8A8A8" stroke-width="0.45"/>
<rect x="405.80" y="529.35" width="13.33" height="8.66" fill="#9F9FFF" stroke="#A8A8A8" stroke-width="0.45"/>
<rect x="419.13" y="529.35" width="13.33" height="8.66" fill="#9696FF" stroke="#A8A8A8" stroke-width="0.45"/>
<rect x="432.46" y="529.35" width="13.33" height="8.66" fill="#F2F2FF" stroke="#A8A8A8" stroke-width="0.45"/>
<rect x="445.80" y="529.35" width="13.33" height="8.66" fill="#D2D2FF" stroke="#A8A8A8" stroke-width="0.45"/>
<rect x="459.13" y="529.35" width="13.33" height="8.66" fill="#D6D6FF" stroke="#A8A8A8" stroke-width="0.45"/>
<rect x="472.46" y="529.35" width="13.33" height="8.66" fill="#FFE9E9" stroke="#A8A8A8" stroke-width="0.45"/>
<rect x="325.80" y="538.01" width="13.33" height="8.66" fill="#FF8989" stroke="#A8A8A8" stroke-width="0.45"/>
<rect x="339.13" y="538.01" width="13.33" height="8.66" fill="#FFB6B6" stroke="#A8A8A8" stroke-width="0.45"/>
<rect x="352.47" y="538.01" width="13.33" height="8.66" fill="#FFA9A9" stroke="#A8A8A8" stroke-width="0.45"/>
<rect x="365.80" y="538.01" width="13.33" height="8.66" fill="#FFDFDF" stroke="#A8A8A8" stroke-width="0.45"/>
<rect x="379.13" y="538.01" width="13.33" height="8.66" fill="#FFF5F5" stroke="#A8A8A8" stroke-width="0.45"/>
<rect x="392.47" y="538.01" width="13.33" height="8.66" fill="#E6E6FF" stroke="#A8A8A8" stroke-width="0.45"/>
<rect x="405.80" y="538.01" width="13.33" height="8.66" fill="#ACACFF" stroke="#A8A8A8" stroke-width="0.45"/>
<rect x="419.13" y="538.01" width="13.33" height="8.66" fill="#B6B6FF" stroke="#A8A8A8" stroke-width="0.45"/>
<rect x="432.46" y="538.01" width="13.33" height="8.66" fill="#D6D6FF" stroke="#A8A8A8" stroke-width="0.45"/>
<rect x="445.80" y="538.01" width="13.33" height="8.66" fill="#CCCCFF" stroke="#A8A8A8" stroke-width="0.45"/>
<rect x="459.13" y="538.01" width="13.33" height="8.66" fill="#E2E2FF" stroke="#A8A8A8" stroke-width="0.45"/>
<rect x="472.46" y="538.01" width="13.33" height="8.66" fill="#EFEFFF" stroke="#A8A8A8" stroke-width="0.45"/>
<rect x="325.80" y="546.67" width="13.33" height="8.66" fill="#FF8686" stroke="#A8A8A8" stroke-width="0.45"/>
<rect x="339.13" y="546.67" width="13.33" height="8.66" fill="#FFAFAF" stroke="#A8A8A8" stroke-width="0.45"/>
<rect x="352.47" y="546.67" width="13.33" height="8.66" fill="#FFACAC" stroke="#A8A8A8" stroke-width="0.45"/>
<rect x="365.80" y="546.67" width="13.33" height="8.66" fill="#FFD9D9" stroke="#A8A8A8" stroke-width="0.45"/>
<rect x="379.13" y="546.67" width="13.33" height="8.66" fill="#FFF5F5" stroke="#A8A8A8" stroke-width="0.45"/>
<rect x="392.47" y="546.67" width="13.33" height="8.66" fill="#E2E2FF" stroke="#A8A8A8" stroke-width="0.45"/>
<rect x="405.80" y="546.67" width="13.33" height="8.66" fill="#ACACFF" stroke="#A8A8A8" stroke-width="0.45"/>
<rect x="419.13" y="546.67" width="13.33" height="8.66" fill="#ACACFF" stroke="#A8A8A8" stroke-width="0.45"/>
<rect x="432.46" y="546.67" width="13.33" height="8.66" fill="#CCCCFF" stroke="#A8A8A8" stroke-width="0.45"/>
<rect x="445.80" y="546.67" width="13.33" height="8.66" fill="#C9C9FF" stroke="#A8A8A8" stroke-width="0.45"/>
<rect x="459.13" y="546.67" width="13.33" height="8.66" fill="#DCDCFF" stroke="#A8A8A8" stroke-width="0.45"/>
<rect x="472.46" y="546.67" width="13.33" height="8.66" fill="#ECECFF" stroke="#A8A8A8" stroke-width="0.45"/>
<rect x="325.80" y="555.34" width="13.33" height="8.66" fill="#FF9999" stroke="#A8A8A8" stroke-width="0.45"/>
<rect x="339.13" y="555.34" width="13.33" height="8.66" fill="#FFD9D9" stroke="#A8A8A8" stroke-width="0.45"/>
<rect x="352.47" y="555.34" width="13.33" height="8.66" fill="#FFDCDC" stroke="#A8A8A8" stroke-width="0.45"/>
<rect x="365.80" y="555.34" width="13.33" height="8.66" fill="#FF9696" stroke="#A8A8A8" stroke-width="0.45"/>
<rect x="379.13" y="555.34" width="13.33" height="8.66" fill="#BFBFFF" stroke="#A8A8A8" stroke-width="0.45"/>
<rect x="392.47" y="555.34" width="13.33" height="8.66" fill="#FFECEC" stroke="#A8A8A8" stroke-width="0.45"/>
<rect x="405.80" y="555.34" width="13.33" height="8.66" fill="#FFFFFF" stroke="#A8A8A8" stroke-width="0.45"/>
<rect x="419.13" y="555.34" width="13.33" height="8.66" fill="#FFFFFF" stroke="#A8A8A8" stroke-width="0.45"/>
<rect x="432.46" y="555.34" width="13.33" height="8.66" fill="#9F9FFF" stroke="#A8A8A8" stroke-width="0.45"/>
<rect x="445.80" y="555.34" width="13.33" height="8.66" fill="#B6B6FF" stroke="#A8A8A8" stroke-width="0.45"/>
<rect x="459.13" y="555.34" width="13.33" height="8.66" fill="#FFFFFF" stroke="#A8A8A8" stroke-width="0.45"/>
<rect x="472.46" y="555.34" width="13.33" height="8.66" fill="#AFAFFF" stroke="#A8A8A8" stroke-width="0.45"/>
<rect x="325.80" y="564.00" width="13.33" height="8.66" fill="#FF8989" stroke="#A8A8A8" stroke-width="0.45"/>
<rect x="339.13" y="564.00" width="13.33" height="8.66" fill="#FFE6E6" stroke="#A8A8A8" stroke-width="0.45"/>
<rect x="352.47" y="564.00" width="13.33" height="8.66" fill="#FFA9A9" stroke="#A8A8A8" stroke-width="0.45"/>
<rect x="365.80" y="564.00" width="13.33" height="8.66" fill="#FFA6A6" stroke="#A8A8A8" stroke-width="0.45"/>
<rect x="379.13" y="564.00" width="13.33" height="8.66" fill="#F9F9FF" stroke="#A8A8A8" stroke-width="0.45"/>
<rect x="392.47" y="564.00" width="13.33" height="8.66" fill="#D9D9FF" stroke="#A8A8A8" stroke-width="0.45"/>
<rect x="405.80" y="564.00" width="13.33" height="8.66" fill="#AFAFFF" stroke="#A8A8A8" stroke-width="0.45"/>
<rect x="419.13" y="564.00" width="13.33" height="8.66" fill="#AFAFFF" stroke="#A8A8A8" stroke-width="0.45"/>
<rect x="432.46" y="564.00" width="13.33" height="8.66" fill="#AFAFFF" stroke="#A8A8A8" stroke-width="0.45"/>
<rect x="445.80" y="564.00" width="13.33" height="8.66" fill="#FFFFFF" stroke="#A8A8A8" stroke-width="0.45"/>
<rect x="459.13" y="564.00" width="13.33" height="8.66" fill="#C9C9FF" stroke="#A8A8A8" stroke-width="0.45"/>
<rect x="472.46" y="564.00" width="13.33" height="8.66" fill="#F5F5FF" stroke="#A8A8A8" stroke-width="0.45"/>
<rect x="325.80" y="572.66" width="13.33" height="8.66" fill="#FF8080" stroke="#A8A8A8" stroke-width="0.45"/>
<rect x="339.13" y="572.66" width="13.33" height="8.66" fill="#FFF5F5" stroke="#A8A8A8" stroke-width="0.45"/>
<rect x="352.47" y="572.66" width="13.33" height="8.66" fill="#FFDFDF" stroke="#A8A8A8" stroke-width="0.45"/>
<rect x="365.80" y="572.66" width="13.33" height="8.66" fill="#FF9999" stroke="#A8A8A8" stroke-width="0.45"/>
<rect x="379.13" y="572.66" width="13.33" height="8.66" fill="#FFF2F2" stroke="#A8A8A8" stroke-width="0.45"/>
<rect x="392.47" y="572.66" width="13.33" height="8.66" fill="#D9D9FF" stroke="#A8A8A8" stroke-width="0.45"/>
<rect x="405.80" y="572.66" width="13.33" height="8.66" fill="#ACACFF" stroke="#A8A8A8" stroke-width="0.45"/>
<rect x="419.13" y="572.66" width="13.33" height="8.66" fill="#ACACFF" stroke="#A8A8A8" stroke-width="0.45"/>
<rect x="432.46" y="572.66" width="13.33" height="8.66" fill="#FFFFFF" stroke="#A8A8A8" stroke-width="0.45"/>
<rect x="445.80" y="572.66" width="13.33" height="8.66" fill="#BFBFFF" stroke="#A8A8A8" stroke-width="0.45"/>
<rect x="459.13" y="572.66" width="13.33" height="8.66" fill="#D9D9FF" stroke="#A8A8A8" stroke-width="0.45"/>
<rect x="472.46" y="572.66" width="13.33" height="8.66" fill="#FFFFFF" stroke="#A8A8A8" stroke-width="0.45"/>
<rect x="325.80" y="581.32" width="13.33" height="8.66" fill="#FF6666" stroke="#A8A8A8" stroke-width="0.45"/>
<rect x="339.13" y="581.32" width="13.33" height="8.66" fill="#FFB6B6" stroke="#A8A8A8" stroke-width="0.45"/>
<rect x="352.47" y="581.32" width="13.33" height="8.66" fill="#FFCCCC" stroke="#A8A8A8" stroke-width="0.45"/>
<rect x="365.80" y="581.32" width="13.33" height="8.66" fill="#FCFCFF" stroke="#A8A8A8" stroke-width="0.45"/>
<rect x="379.13" y="581.32" width="13.33" height="8.66" fill="#E2E2FF" stroke="#A8A8A8" stroke-width="0.45"/>
<rect x="392.47" y="581.32" width="13.33" height="8.66" fill="#FFE6E6" stroke="#A8A8A8" stroke-width="0.45"/>
<rect x="405.80" y="581.32" width="13.33" height="8.66" fill="#BFBFFF" stroke="#A8A8A8" stroke-width="0.45"/>
<rect x="419.13" y="581.32" width="13.33" height="8.66" fill="#D6D6FF" stroke="#A8A8A8" stroke-width="0.45"/>
<rect x="432.46" y="581.32" width="13.33" height="8.66" fill="#DFDFFF" stroke="#A8A8A8" stroke-width="0.45"/>
<rect x="445.80" y="581.32" width="13.33" height="8.66" fill="#DCDCFF" stroke="#A8A8A8" stroke-width="0.45"/>
<rect x="459.13" y="581.32" width="13.33" height="8.66" fill="#C9C9FF" stroke="#A8A8A8" stroke-width="0.45"/>
<rect x="472.46" y="581.32" width="13.33" height="8.66" fill="#BFBFFF" stroke="#A8A8A8" stroke-width="0.45"/>
<rect x="325.80" y="589.98" width="13.33" height="8.66" fill="#FF8989" stroke="#A8A8A8" stroke-width="0.45"/>
<rect x="339.13" y="589.98" width="13.33" height="8.66" fill="#FF9F9F" stroke="#A8A8A8" stroke-width="0.45"/>
<rect x="352.47" y="589.98" width="13.33" height="8.66" fill="#FFDADA" stroke="#A8A8A8" stroke-width="0.45"/>
<rect x="365.80" y="589.98" width="13.33" height="8.66" fill="#CCCCFF" stroke="#A8A8A8" stroke-width="0.45"/>
<rect x="379.13" y="589.98" width="13.33" height="8.66" fill="#FFDFDF" stroke="#A8A8A8" stroke-width="0.45"/>
<rect x="392.47" y="589.98" width="13.33" height="8.66" fill="#FFD9D9" stroke="#A8A8A8" stroke-width="0.45"/>
<rect x="405.80" y="589.98" width="13.33" height="8.66" fill="#CBCBFF" stroke="#A8A8A8" stroke-width="0.45"/>
<rect x="419.13" y="589.98" width="13.33" height="8.66" fill="#B1B1FF" stroke="#A8A8A8" stroke-width="0.45"/>
<rect x="432.46" y="589.98" width="13.33" height="8.66" fill="#D6D6FF" stroke="#A8A8A8" stroke-width="0.45"/>
<rect x="445.80" y="589.98" width="13.33" height="8.66" fill="#D6D6FF" stroke="#A8A8A8" stroke-width="0.45"/>
<rect x="459.13" y="589.98" width="13.33" height="8.66" fill="#D6D6FF" stroke="#A8A8A8" stroke-width="0.45"/>
<rect x="472.46" y="589.98" width="13.33" height="8.66" fill="#DFDFFF" stroke="#A8A8A8" stroke-width="0.45"/>
<rect x="325.80" y="598.64" width="13.33" height="8.66" fill="#FF5959" stroke="#A8A8A8" stroke-width="0.45"/>
<rect x="339.13" y="598.64" width="13.33" height="8.66" fill="#FFEFEF" stroke="#A8A8A8" stroke-width="0.45"/>
<rect x="352.47" y="598.64" width="13.33" height="8.66" fill="#FFB6B6" stroke="#A8A8A8" stroke-width="0.45"/>
<rect x="365.80" y="598.64" width="13.33" height="8.66" fill="#FFF5F5" stroke="#A8A8A8" stroke-width="0.45"/>
<rect x="379.13" y="598.64" width="13.33" height="8.66" fill="#FFFFFF" stroke="#A8A8A8" stroke-width="0.45"/>
<rect x="392.47" y="598.64" width="13.33" height="8.66" fill="#E2E2FF" stroke="#A8A8A8" stroke-width="0.45"/>
<rect x="405.80" y="598.64" width="13.33" height="8.66" fill="#CCCCFF" stroke="#A8A8A8" stroke-width="0.45"/>
<rect x="419.13" y="598.64" width="13.33" height="8.66" fill="#C6C6FF" stroke="#A8A8A8" stroke-width="0.45"/>
<rect x="432.46" y="598.64" width="13.33" height="8.66" fill="#D2D2FF" stroke="#A8A8A8" stroke-width="0.45"/>
<rect x="445.80" y="598.64" width="13.33" height="8.66" fill="#CFCFFF" stroke="#A8A8A8" stroke-width="0.45"/>
<rect x="459.13" y="598.64" width="13.33" height="8.66" fill="#DFDFFF" stroke="#A8A8A8" stroke-width="0.45"/>
<rect x="472.46" y="598.64" width="13.33" height="8.66" fill="#E9E9FF" stroke="#A8A8A8" stroke-width="0.45"/>
<rect x="325.80" y="607.30" width="13.33" height="8.66" fill="#FF3030" stroke="#A8A8A8" stroke-width="0.45"/>
<rect x="339.13" y="607.30" width="13.33" height="8.66" fill="#EFEFFF" stroke="#A8A8A8" stroke-width="0.45"/>
<rect x="352.47" y="607.30" width="13.33" height="8.66" fill="#FFDFDF" stroke="#A8A8A8" stroke-width="0.45"/>
<rect x="365.80" y="607.30" width="13.33" height="8.66" fill="#FFECEC" stroke="#A8A8A8" stroke-width="0.45"/>
<rect x="379.13" y="607.30" width="13.33" height="8.66" fill="#E2E2FF" stroke="#A8A8A8" stroke-width="0.45"/>
<rect x="392.47" y="607.30" width="13.33" height="8.66" fill="#E2E2FF" stroke="#A8A8A8" stroke-width="0.45"/>
<rect x="405.80" y="607.30" width="13.33" height="8.66" fill="#D9D9FF" stroke="#A8A8A8" stroke-width="0.45"/>
<rect x="419.13" y="607.30" width="13.33" height="8.66" fill="#EFEFFF" stroke="#A8A8A8" stroke-width="0.45"/>
<rect x="432.46" y="607.30" width="13.33" height="8.66" fill="#DFDFFF" stroke="#A8A8A8" stroke-width="0.45"/>
<rect x="445.80" y="607.30" width="13.33" height="8.66" fill="#DFDFFF" stroke="#A8A8A8" stroke-width="0.45"/>
<rect x="459.13" y="607.30" width="13.33" height="8.66" fill="#D2D2FF" stroke="#A8A8A8" stroke-width="0.45"/>
<rect x="472.46" y="607.30" width="13.33" height="8.66" fill="#F5F5FF" stroke="#A8A8A8" stroke-width="0.45"/>
<rect x="325.80" y="615.96" width="13.33" height="8.66" fill="#FF3030" stroke="#A8A8A8" stroke-width="0.45"/>
<rect x="339.13" y="615.96" width="13.33" height="8.66" fill="#ECECFF" stroke="#A8A8A8" stroke-width="0.45"/>
<rect x="352.47" y="615.96" width="13.33" height="8.66" fill="#F9F9FF" stroke="#A8A8A8" stroke-width="0.45"/>
<rect x="365.80" y="615.96" width="13.33" height="8.66" fill="#EFEFFF" stroke="#A8A8A8" stroke-width="0.45"/>
<rect x="379.13" y="615.96" width="13.33" height="8.66" fill="#EFEFFF" stroke="#A8A8A8" stroke-width="0.45"/>
<rect x="392.47" y="615.96" width="13.33" height="8.66" fill="#EFEFFF" stroke="#A8A8A8" stroke-width="0.45"/>
<rect x="405.80" y="615.96" width="13.33" height="8.66" fill="#E9E9FF" stroke="#A8A8A8" stroke-width="0.45"/>
<rect x="419.13" y="615.96" width="13.33" height="8.66" fill="#E9E9FF" stroke="#A8A8A8" stroke-width="0.45"/>
<rect x="432.46" y="615.96" width="13.33" height="8.66" fill="#E2E2FF" stroke="#A8A8A8" stroke-width="0.45"/>
<rect x="445.80" y="615.96" width="13.33" height="8.66" fill="#E9E9FF" stroke="#A8A8A8" stroke-width="0.45"/>
<rect x="459.13" y="615.96" width="13.33" height="8.66" fill="#E6E6FF" stroke="#A8A8A8" stroke-width="0.45"/>
<rect x="472.46" y="615.96" width="13.33" height="8.66" fill="#E9E9FF" stroke="#A8A8A8" stroke-width="0.45"/>
<rect x="325.80" y="624.62" width="13.33" height="8.66" fill="#FF3030" stroke="#A8A8A8" stroke-width="0.45"/>
<rect x="339.13" y="624.62" width="13.33" height="8.66" fill="#EFEFFF" stroke="#A8A8A8" stroke-width="0.45"/>
<rect x="352.47" y="624.62" width="13.33" height="8.66" fill="#FFF5F5" stroke="#A8A8A8" stroke-width="0.45"/>
<rect x="365.80" y="624.62" width="13.33" height="8.66" fill="#FCFCFF" stroke="#A8A8A8" stroke-width="0.45"/>
<rect x="379.13" y="624.62" width="13.33" height="8.66" fill="#E2E2FF" stroke="#A8A8A8" stroke-width="0.45"/>
<rect x="392.47" y="624.62" width="13.33" height="8.66" fill="#F2F2FF" stroke="#A8A8A8" stroke-width="0.45"/>
<rect x="405.80" y="624.62" width="13.33" height="8.66" fill="#E2E2FF" stroke="#A8A8A8" stroke-width="0.45"/>
<rect x="419.13" y="624.62" width="13.33" height="8.66" fill="#E2E2FF" stroke="#A8A8A8" stroke-width="0.45"/>
<rect x="432.46" y="624.62" width="13.33" height="8.66" fill="#E2E2FF" stroke="#A8A8A8" stroke-width="0.45"/>
<rect x="445.80" y="624.62" width="13.33" height="8.66" fill="#E9E9FF" stroke="#A8A8A8" stroke-width="0.45"/>
<rect x="459.13" y="624.62" width="13.33" height="8.66" fill="#E2E2FF" stroke="#A8A8A8" stroke-width="0.45"/>
<rect x="472.46" y="624.62" width="13.33" height="8.66" fill="#D9D9FF" stroke="#A8A8A8" stroke-width="0.45"/>
<line x1="332.47" y1="250.80" x2="332.47" y2="252.00" stroke="#C8C8C8" stroke-width="0.5"/>
<line x1="345.80" y1="250.80" x2="345.80" y2="252.00" stroke="#C8C8C8" stroke-width="0.5"/>
<line x1="359.13" y1="250.80" x2="359.13" y2="252.00" stroke="#C8C8C8" stroke-width="0.5"/>
<line x1="372.47" y1="250.80" x2="372.47" y2="252.00" stroke="#C8C8C8" stroke-width="0.5"/>
<line x1="385.80" y1="250.80" x2="385.80" y2="252.00" stroke="#C8C8C8" stroke-width="0.5"/>
<line x1="399.13" y1="250.80" x2="399.13" y2="252.00" stroke="#C8C8C8" stroke-width="0.5"/>
<line x1="412.46" y1="250.80" x2="412.46" y2="252.00" stroke="#C8C8C8" stroke-width="0.5"/>
<line x1="425.80" y1="250.80" x2="425.80" y2="252.00" stroke="#C8C8C8" stroke-width="0.5"/>
<line x1="439.13" y1="250.80" x2="439.13" y2="252.00" stroke="#C8C8C8" stroke-width="0.5"/>
<line x1="452.46" y1="250.80" x2="452.46" y2="252.00" stroke="#C8C8C8" stroke-width="0.5"/>
<line x1="465.80" y1="250.80" x2="465.80" y2="252.00" stroke="#C8C8C8" stroke-width="0.5"/>
<line x1="479.13" y1="250.80" x2="479.13" y2="252.00" stroke="#C8C8C8" stroke-width="0.5"/>
<text x="491.10" y="259.66" font-size="9.05" text-anchor="start" font-weight="400" fill="#000">Cinnamoylglycine</text>
<text x="491.15" y="268.37" font-size="9.05" text-anchor="start" font-weight="400" fill="#000">1</text>
<text x="491.19" y="277.08" font-size="9.05" text-anchor="start" font-weight="400" fill="#000">3-(methylsulfanyl)-5H-[1,2,4]triazino[5,6-b]indole</text>
<text x="491.24" y="285.78" font-size="9.05" text-anchor="start" font-weight="400" fill="#000">2</text>
<text x="491.28" y="294.49" font-size="9.05" text-anchor="start" font-weight="400" fill="#000">Epinephrine</text>
<text x="491.33" y="303.20" font-size="9.05" text-anchor="start" font-weight="400" fill="#000">Eicosapentaenoic acid</text>
<text x="491.37" y="311.91" font-size="9.05" text-anchor="start" font-weight="400" fill="#000">LPG 18:1</text>
<text x="491.42" y="320.62" font-size="9.05" text-anchor="start" font-weight="400" fill="#000">PS (18:0/22:4)</text>
<text x="491.46" y="329.33" font-size="9.05" text-anchor="start" font-weight="400" fill="#000">8Z,11Z,14Z-Eicosatrienoic acid</text>
<text x="491.50" y="338.04" font-size="9.05" text-anchor="start" font-weight="400" fill="#000">(+/-)-epi CP 47, 497</text>
<text x="491.55" y="346.75" font-size="9.05" text-anchor="start" font-weight="400" fill="#000">Arachidonic acid</text>
<text x="491.60" y="355.46" font-size="9.05" text-anchor="start" font-weight="400" fill="#000">all-cis-4,7,10,13,16-Docosapentaenoic acid</text>
<text x="491.64" y="364.17" font-size="9.05" text-anchor="start" font-weight="400" fill="#000">Adrenic acid</text>
<text x="491.69" y="372.87" font-size="9.05" text-anchor="start" font-weight="400" fill="#000">Heptanoic acid</text>
<text x="491.73" y="381.58" font-size="9.05" text-anchor="start" font-weight="400" fill="#000">16-Hydroxyhexadecanoic acid</text>
<text x="491.78" y="390.29" font-size="9.05" text-anchor="start" font-weight="400" fill="#000">13-Hotre(R)</text>
<text x="491.82" y="399.00" font-size="9.05" text-anchor="start" font-weight="400" fill="#000">FAHFA (14:0/16:2)</text>
<text x="491.87" y="407.71" font-size="9.05" text-anchor="start" font-weight="400" fill="#000">FAHFA (18:2/17:2)</text>
<text x="491.91" y="416.42" font-size="9.05" text-anchor="start" font-weight="400" fill="#000">Tridecylic acid</text>
<text x="491.96" y="425.13" font-size="9.05" text-anchor="start" font-weight="400" fill="#000">Pentadecanoic acid</text>
<text x="492.00" y="433.84" font-size="9.05" text-anchor="start" font-weight="400" fill="#000">Ethyl myristate</text>
<text x="492.05" y="442.55" font-size="9.05" text-anchor="start" font-weight="400" fill="#000">FAHFA (16:0/18:2)</text>
<text x="492.09" y="451.26" font-size="9.05" text-anchor="start" font-weight="400" fill="#000">Lauric acid ethyl ester</text>
<text x="492.14" y="459.96" font-size="9.05" text-anchor="start" font-weight="400" fill="#000">Decanoic acid</text>
<text x="492.18" y="468.67" font-size="9.05" text-anchor="start" font-weight="400" fill="#000">Lauric acid</text>
<text x="492.23" y="477.38" font-size="9.05" text-anchor="start" font-weight="400" fill="#000">Hexanoic acid</text>
<text x="492.27" y="486.09" font-size="9.05" text-anchor="start" font-weight="400" fill="#000">cis-2-Decenoic acid</text>
<text x="492.31" y="494.80" font-size="9.05" text-anchor="start" font-weight="400" fill="#000">(+/-)12(13)-DiHOME</text>
<text x="492.36" y="503.51" font-size="9.05" text-anchor="start" font-weight="400" fill="#000">FAHFA (18:1/19:2)</text>
<text x="492.41" y="512.22" font-size="9.05" text-anchor="start" font-weight="400" fill="#000">FAHFA (18:2/20:4)</text>
<text x="492.45" y="520.93" font-size="9.05" text-anchor="start" font-weight="400" fill="#000">11(Z),14(Z)-Eicosadienoic acid</text>
<text x="492.50" y="529.64" font-size="9.05" text-anchor="start" font-weight="400" fill="#000">FAHFA (18:2/18:2)</text>
<text x="492.54" y="538.35" font-size="9.05" text-anchor="start" font-weight="400" fill="#000">FAHFA (18:1/20:3)</text>
<text x="492.59" y="547.06" font-size="9.05" text-anchor="start" font-weight="400" fill="#000">γ-Linolenic acid</text>
<text x="492.63" y="555.76" font-size="9.05" text-anchor="start" font-weight="400" fill="#000">α-Linolenic acid</text>
<text x="492.68" y="564.47" font-size="9.05" text-anchor="start" font-weight="400" fill="#000">LPE 14:0</text>
<text x="492.72" y="573.18" font-size="9.05" text-anchor="start" font-weight="400" fill="#000">(R)-3-Hydroxy myristic acid</text>
<text x="492.77" y="581.89" font-size="9.05" text-anchor="start" font-weight="400" fill="#000">FAHFA (18:1/18:2)</text>
<text x="492.81" y="590.60" font-size="9.05" text-anchor="start" font-weight="400" fill="#000">LPS 22:4</text>
<text x="492.86" y="599.31" font-size="9.05" text-anchor="start" font-weight="400" fill="#000">LPE 22:4</text>
<text x="492.90" y="608.02" font-size="9.05" text-anchor="start" font-weight="400" fill="#000">FAHFA (16:1/18:3)</text>
<text x="492.95" y="616.73" font-size="9.05" text-anchor="start" font-weight="400" fill="#000">Deoxycholic acid</text>
<text x="492.99" y="625.44" font-size="9.05" text-anchor="start" font-weight="400" fill="#000">Cholic acid</text>
<text x="493.04" y="634.14" font-size="9.05" text-anchor="start" font-weight="400" fill="#000">SM (d14:1/14:0)</text>
<defs><linearGradient id="hg" x1="0" y1="0" x2="0" y2="1"><stop offset="0" stop-color="#FF0000"/><stop offset="0.5" stop-color="#FFFFFF"/><stop offset="1" stop-color="#0000FF"/></linearGradient></defs>
<rect x="617.10" y="394.60" width="7.80" height="113.20" fill="url(#hg)" stroke="none" stroke-width="1"/>
<text x="629.00" y="400.56" font-size="11.0" text-anchor="start" font-weight="400" fill="#000">4</text>
<text x="629.00" y="428.46" font-size="11.0" text-anchor="start" font-weight="400" fill="#000">2</text>
<text x="629.00" y="456.16" font-size="11.0" text-anchor="start" font-weight="400" fill="#000">0</text>
<text x="629.00" y="484.76" font-size="11.0" text-anchor="start" font-weight="400" fill="#000">-2</text>
<text x="629.00" y="510.46" font-size="11.0" text-anchor="start" font-weight="400" fill="#000">-4</text>
<text x="6.30" y="480.75" font-size="18.2" text-anchor="start" font-weight="700" fill="#000">F</text>
<rect x="168.20" y="484.80" width="133.40" height="338.50" fill="#EBEBEB" stroke="none" stroke-width="1"/>
<line x1="174.10" y1="484.80" x2="174.10" y2="823.30" stroke="#FFFFFF" stroke-width="1.0"/>
<line x1="186.26" y1="484.80" x2="186.26" y2="823.30" stroke="#FFFFFF" stroke-width="0.5"/>
<line x1="198.42" y1="484.80" x2="198.42" y2="823.30" stroke="#FFFFFF" stroke-width="1.0"/>
<line x1="210.58" y1="484.80" x2="210.58" y2="823.30" stroke="#FFFFFF" stroke-width="0.5"/>
<line x1="222.74" y1="484.80" x2="222.74" y2="823.30" stroke="#FFFFFF" stroke-width="1.0"/>
<line x1="234.90" y1="484.80" x2="234.90" y2="823.30" stroke="#FFFFFF" stroke-width="0.5"/>
<line x1="247.06" y1="484.80" x2="247.06" y2="823.30" stroke="#FFFFFF" stroke-width="1.0"/>
<line x1="259.22" y1="484.80" x2="259.22" y2="823.30" stroke="#FFFFFF" stroke-width="0.5"/>
<line x1="271.38" y1="484.80" x2="271.38" y2="823.30" stroke="#FFFFFF" stroke-width="1.0"/>
<line x1="283.54" y1="484.80" x2="283.54" y2="823.30" stroke="#FFFFFF" stroke-width="0.5"/>
<line x1="295.70" y1="484.80" x2="295.70" y2="823.30" stroke="#FFFFFF" stroke-width="1.0"/>
<line x1="168.20" y1="494.70" x2="301.60" y2="494.70" stroke="#FFFFFF" stroke-width="1.0"/>
<line x1="166.00" y1="494.70" x2="168.20" y2="494.70" stroke="#333" stroke-width="0.6"/>
<text x="163.60" y="497.13" font-size="6.75" text-anchor="end" font-weight="400" fill="#4D4D4D">Vascular smooth muscle contraction</text>
<line x1="168.20" y1="511.51" x2="301.60" y2="511.51" stroke="#FFFFFF" stroke-width="1.0"/>
<line x1="166.00" y1="511.51" x2="168.20" y2="511.51" stroke="#333" stroke-width="0.6"/>
<text x="163.60" y="513.94" font-size="6.75" text-anchor="end" font-weight="400" fill="#4D4D4D">Serotonergic synapse</text>
<line x1="168.20" y1="528.32" x2="301.60" y2="528.32" stroke="#FFFFFF" stroke-width="1.0"/>
<line x1="166.00" y1="528.32" x2="168.20" y2="528.32" stroke="#333" stroke-width="0.6"/>
<text x="163.60" y="530.75" font-size="6.75" text-anchor="end" font-weight="400" fill="#4D4D4D">Regulation of lipolysis in adipocytes</text>
<line x1="168.20" y1="545.13" x2="301.60" y2="545.13" stroke="#FFFFFF" stroke-width="1.0"/>
<line x1="166.00" y1="545.13" x2="168.20" y2="545.13" stroke="#333" stroke-width="0.6"/>
<text x="163.60" y="547.56" font-size="6.75" text-anchor="end" font-weight="400" fill="#4D4D4D">Platelet activation</text>
<line x1="168.20" y1="561.94" x2="301.60" y2="561.94" stroke="#FFFFFF" stroke-width="1.0"/>
<line x1="166.00" y1="561.94" x2="168.20" y2="561.94" stroke="#333" stroke-width="0.6"/>
<text x="163.60" y="564.37" font-size="6.75" text-anchor="end" font-weight="400" fill="#4D4D4D">Phototransduction − fly</text>
<line x1="168.20" y1="578.75" x2="301.60" y2="578.75" stroke="#FFFFFF" stroke-width="1.0"/>
<line x1="166.00" y1="578.75" x2="168.20" y2="578.75" stroke="#333" stroke-width="0.6"/>
<text x="163.60" y="581.18" font-size="6.75" text-anchor="end" font-weight="400" fill="#4D4D4D">Oxytocin signaling pathway</text>
<line x1="168.20" y1="595.56" x2="301.60" y2="595.56" stroke="#FFFFFF" stroke-width="1.0"/>
<line x1="166.00" y1="595.56" x2="168.20" y2="595.56" stroke="#333" stroke-width="0.6"/>
<text x="163.60" y="597.99" font-size="6.75" text-anchor="end" font-weight="400" fill="#4D4D4D">Ovarian steroidogenesis</text>
<line x1="168.20" y1="612.37" x2="301.60" y2="612.37" stroke="#FFFFFF" stroke-width="1.0"/>
<line x1="166.00" y1="612.37" x2="168.20" y2="612.37" stroke="#333" stroke-width="0.6"/>
<text x="163.60" y="614.80" font-size="6.75" text-anchor="end" font-weight="400" fill="#4D4D4D">Necroptosis</text>
<line x1="168.20" y1="629.18" x2="301.60" y2="629.18" stroke="#FFFFFF" stroke-width="1.0"/>
<line x1="166.00" y1="629.18" x2="168.20" y2="629.18" stroke="#333" stroke-width="0.6"/>
<text x="163.60" y="631.61" font-size="6.75" text-anchor="end" font-weight="400" fill="#4D4D4D">Long−term depression</text>
<line x1="168.20" y1="645.99" x2="301.60" y2="645.99" stroke="#FFFFFF" stroke-width="1.0"/>
<line x1="166.00" y1="645.99" x2="168.20" y2="645.99" stroke="#333" stroke-width="0.6"/>
<text x="163.60" y="648.42" font-size="6.75" text-anchor="end" font-weight="400" fill="#4D4D4D">Linoleic acid metabolism</text>
<line x1="168.20" y1="662.81" x2="301.60" y2="662.81" stroke="#FFFFFF" stroke-width="1.0"/>
<line x1="166.00" y1="662.81" x2="168.20" y2="662.81" stroke="#333" stroke-width="0.6"/>
<text x="163.60" y="665.24" font-size="6.75" text-anchor="end" font-weight="400" fill="#4D4D4D">Inflammatory mediator regulation of TRP channels</text>
<line x1="168.20" y1="679.62" x2="301.60" y2="679.62" stroke="#FFFFFF" stroke-width="1.0"/>
<line x1="166.00" y1="679.62" x2="168.20" y2="679.62" stroke="#333" stroke-width="0.6"/>
<text x="163.60" y="682.05" font-size="6.75" text-anchor="end" font-weight="400" fill="#4D4D4D">GnRH signaling pathway</text>
<line x1="168.20" y1="696.43" x2="301.60" y2="696.43" stroke="#FFFFFF" stroke-width="1.0"/>
<line x1="166.00" y1="696.43" x2="168.20" y2="696.43" stroke="#333" stroke-width="0.6"/>
<text x="163.60" y="698.86" font-size="6.75" text-anchor="end" font-weight="400" fill="#4D4D4D">Ferroptosis</text>
<line x1="168.20" y1="713.24" x2="301.60" y2="713.24" stroke="#FFFFFF" stroke-width="1.0"/>
<line x1="166.00" y1="713.24" x2="168.20" y2="713.24" stroke="#333" stroke-width="0.6"/>
<text x="163.60" y="715.67" font-size="6.75" text-anchor="end" font-weight="400" fill="#4D4D4D">Fc gamma R−mediated phagocytosis</text>
<line x1="168.20" y1="730.05" x2="301.60" y2="730.05" stroke="#FFFFFF" stroke-width="1.0"/>
<line x1="166.00" y1="730.05" x2="168.20" y2="730.05" stroke="#333" stroke-width="0.6"/>
<text x="163.60" y="732.48" font-size="6.75" text-anchor="end" font-weight="400" fill="#4D4D4D">Fc epsilon RI signaling pathway</text>
<line x1="168.20" y1="746.86" x2="301.60" y2="746.86" stroke="#FFFFFF" stroke-width="1.0"/>
<line x1="166.00" y1="746.86" x2="168.20" y2="746.86" stroke="#333" stroke-width="0.6"/>
<text x="163.60" y="749.29" font-size="6.75" text-anchor="end" font-weight="400" fill="#4D4D4D">Arachidonic acid metabolism</text>
<line x1="168.20" y1="763.67" x2="301.60" y2="763.67" stroke="#FFFFFF" stroke-width="1.0"/>
<line x1="166.00" y1="763.67" x2="168.20" y2="763.67" stroke="#333" stroke-width="0.6"/>
<text x="163.60" y="766.10" font-size="6.75" text-anchor="end" font-weight="400" fill="#4D4D4D">Aldosterone synthesis and secretion</text>
<line x1="168.20" y1="780.48" x2="301.60" y2="780.48" stroke="#FFFFFF" stroke-width="1.0"/>
<line x1="166.00" y1="780.48" x2="168.20" y2="780.48" stroke="#333" stroke-width="0.6"/>
<text x="163.60" y="782.91" font-size="6.75" text-anchor="end" font-weight="400" fill="#4D4D4D">Fatty acid biosynthesis</text>
<line x1="168.20" y1="797.29" x2="301.60" y2="797.29" stroke="#FFFFFF" stroke-width="1.0"/>
<line x1="166.00" y1="797.29" x2="168.20" y2="797.29" stroke="#333" stroke-width="0.6"/>
<text x="163.60" y="799.72" font-size="6.75" text-anchor="end" font-weight="400" fill="#4D4D4D">Biosynthesis of unsaturated fatty acids</text>
<line x1="168.20" y1="814.10" x2="301.60" y2="814.10" stroke="#FFFFFF" stroke-width="1.0"/>
<line x1="166.00" y1="814.10" x2="168.20" y2="814.10" stroke="#333" stroke-width="0.6"/>
<text x="163.60" y="816.53" font-size="6.75" text-anchor="end" font-weight="400" fill="#4D4D4D">Bile secretion</text>
<text x="168.20" y="478.43" font-size="9.8" text-anchor="start" font-weight="400" fill="#000">SM.vs.HM</text>
<line x1="174.10" y1="823.30" x2="174.10" y2="825.50" stroke="#333" stroke-width="0.6"/>
<text x="174.10" y="832.48" font-size="6.9" text-anchor="middle" font-weight="400" fill="#4D4D4D">0.5</text>
<line x1="198.42" y1="823.30" x2="198.42" y2="825.50" stroke="#333" stroke-width="0.6"/>
<text x="198.42" y="832.48" font-size="6.9" text-anchor="middle" font-weight="400" fill="#4D4D4D">0.6</text>
<line x1="222.74" y1="823.30" x2="222.74" y2="825.50" stroke="#333" stroke-width="0.6"/>
<text x="222.74" y="832.48" font-size="6.9" text-anchor="middle" font-weight="400" fill="#4D4D4D">0.7</text>
<line x1="247.06" y1="823.30" x2="247.06" y2="825.50" stroke="#333" stroke-width="0.6"/>
<text x="247.06" y="832.48" font-size="6.9" text-anchor="middle" font-weight="400" fill="#4D4D4D">0.8</text>
<line x1="271.38" y1="823.30" x2="271.38" y2="825.50" stroke="#333" stroke-width="0.6"/>
<text x="271.38" y="832.48" font-size="6.9" text-anchor="middle" font-weight="400" fill="#4D4D4D">0.9</text>
<line x1="295.70" y1="823.30" x2="295.70" y2="825.50" stroke="#333" stroke-width="0.6"/>
<text x="295.70" y="832.48" font-size="6.9" text-anchor="middle" font-weight="400" fill="#4D4D4D">1.0</text>
<text x="234.60" y="842.56" font-size="8.5" text-anchor="middle" font-weight="400" fill="#000">Ratio</text>
<text x="6.20" y="657.56" font-size="8.5" text-anchor="middle" font-weight="400" fill="#000" transform="rotate(-90 6.20 654.50)">Terms</text>
<circle cx="295.70" cy="494.70" r="1.30" fill="#1010FF"/>
<circle cx="295.70" cy="511.51" r="1.30" fill="#1010FF"/>
<circle cx="295.70" cy="528.32" r="1.30" fill="#1010FF"/>
<circle cx="295.70" cy="545.13" r="1.30" fill="#1010FF"/>
<circle cx="295.70" cy="561.94" r="1.30" fill="#1010FF"/>
<circle cx="295.70" cy="578.75" r="1.30" fill="#1010FF"/>
<circle cx="295.70" cy="595.56" r="1.30" fill="#1010FF"/>
<circle cx="295.70" cy="612.37" r="1.30" fill="#1010FF"/>
<circle cx="295.70" cy="629.18" r="1.30" fill="#1010FF"/>
<circle cx="295.70" cy="645.99" r="1.30" fill="#1010FF"/>
<circle cx="295.70" cy="662.81" r="1.30" fill="#1010FF"/>
<circle cx="295.70" cy="679.62" r="1.30" fill="#1010FF"/>
<circle cx="295.70" cy="713.24" r="1.30" fill="#1010FF"/>
<circle cx="295.70" cy="730.05" r="1.30" fill="#1010FF"/>
<circle cx="295.70" cy="746.86" r="1.30" fill="#1010FF"/>
<circle cx="295.70" cy="763.67" r="1.30" fill="#1010FF"/>
<circle cx="295.70" cy="696.43" r="4.15" fill="#FF4A0A"/>
<circle cx="214.63" cy="780.48" r="4.15" fill="#FFF51E"/>
<circle cx="198.42" cy="797.29" r="5.25" fill="#FF0000"/>
<circle cx="174.10" cy="814.10" r="3.95" fill="#C27BC0"/>
<text x="6.30" y="559.65" font-size="8.2" text-anchor="start" font-weight="400" fill="#000">−log10(Pvalue)</text>
<defs><linearGradient id="fg" x1="0" y1="0" x2="0" y2="1"><stop offset="0" stop-color="#FF0000"/><stop offset="0.25" stop-color="#FF8000"/><stop offset="0.5" stop-color="#FFF000"/><stop offset="0.68" stop-color="#D5A08C"/><stop offset="0.85" stop-color="#9A5CD0"/><stop offset="1" stop-color="#2A10FF"/></linearGradient></defs>
<rect x="5.90" y="562.60" width="13.30" height="65.10" fill="url(#fg)" stroke="none" stroke-width="1"/>
<line x1="5.90" y1="567.60" x2="8.30" y2="567.60" stroke="#FFFFFF" stroke-width="0.5"/>
<line x1="16.80" y1="567.60" x2="19.20" y2="567.60" stroke="#FFFFFF" stroke-width="0.5"/>
<text x="23.00" y="570.12" font-size="7.0" text-anchor="start" font-weight="400" fill="#000">1.8</text>
<line x1="5.90" y1="580.60" x2="8.30" y2="580.60" stroke="#FFFFFF" stroke-width="0.5"/>
<line x1="16.80" y1="580.60" x2="19.20" y2="580.60" stroke="#FFFFFF" stroke-width="0.5"/>
<text x="23.00" y="583.12" font-size="7.0" text-anchor="start" font-weight="400" fill="#000">1.6</text>
<line x1="5.90" y1="593.50" x2="8.30" y2="593.50" stroke="#FFFFFF" stroke-width="0.5"/>
<line x1="16.80" y1="593.50" x2="19.20" y2="593.50" stroke="#FFFFFF" stroke-width="0.5"/>
<text x="23.00" y="596.02" font-size="7.0" text-anchor="start" font-weight="400" fill="#000">1.4</text>
<line x1="5.90" y1="606.50" x2="8.30" y2="606.50" stroke="#FFFFFF" stroke-width="0.5"/>
<line x1="16.80" y1="606.50" x2="19.20" y2="606.50" stroke="#FFFFFF" stroke-width="0.5"/>
<text x="23.00" y="609.02" font-size="7.0" text-anchor="start" font-weight="400" fill="#000">1.2</text>
<line x1="5.90" y1="619.40" x2="8.30" y2="619.40" stroke="#FFFFFF" stroke-width="0.5"/>
<line x1="16.80" y1="619.40" x2="19.20" y2="619.40" stroke="#FFFFFF" stroke-width="0.5"/>
<text x="23.00" y="621.92" font-size="7.0" text-anchor="start" font-weight="400" fill="#000">1.0</text>
<text x="5.50" y="685.29" font-size="8.3" text-anchor="start" font-weight="400" fill="#000">Number</text>
<rect x="5.50" y="688.20" width="12.40" height="12.95" fill="#F2F2F2" stroke="#FFFFFF" stroke-width="0.5"/>
<circle cx="11.70" cy="694.70" r="1.50" fill="#000"/>
<text x="20.50" y="697.22" font-size="7.0" text-anchor="start" font-weight="400" fill="#000">1.0</text>
<rect x="5.50" y="701.15" width="12.40" height="12.95" fill="#F2F2F2" stroke="#FFFFFF" stroke-width="0.5"/>
<circle cx="11.70" cy="707.65" r="3.40" fill="#000"/>
<text x="20.50" y="710.17" font-size="7.0" text-anchor="start" font-weight="400" fill="#000">1.5</text>
<rect x="5.50" y="714.10" width="12.40" height="12.95" fill="#F2F2F2" stroke="#FFFFFF" stroke-width="0.5"/>
<circle cx="11.70" cy="720.60" r="4.40" fill="#000"/>
<text x="20.50" y="723.12" font-size="7.0" text-anchor="start" font-weight="400" fill="#000">2.0</text>
<rect x="5.50" y="727.05" width="12.40" height="12.95" fill="#F2F2F2" stroke="#FFFFFF" stroke-width="0.5"/>
<circle cx="11.70" cy="733.55" r="5.00" fill="#000"/>
<text x="20.50" y="736.07" font-size="7.0" text-anchor="start" font-weight="400" fill="#000">2.5</text>
<rect x="5.50" y="740.00" width="12.40" height="12.95" fill="#F2F2F2" stroke="#FFFFFF" stroke-width="0.5"/>
<circle cx="11.70" cy="746.50" r="5.70" fill="#000"/>
<text x="20.50" y="749.02" font-size="7.0" text-anchor="start" font-weight="400" fill="#000">3.0</text>
<text x="335.00" y="659.48" font-size="18.0" text-anchor="start" font-weight="700" fill="#000">G</text>
<text x="424.50" y="675.98" font-size="13.0" text-anchor="middle" font-weight="400" fill="#000">Cholic acid</text>
<line x1="392.30" y1="690.80" x2="392.30" y2="813.30" stroke="#1a1a1a" stroke-width="1.4"/>
<line x1="391.60" y1="812.50" x2="473.10" y2="812.50" stroke="#1a1a1a" stroke-width="1.6"/>
<line x1="388.70" y1="812.50" x2="392.30" y2="812.50" stroke="#1a1a1a" stroke-width="1.2"/>
<text x="386.00" y="816.75" font-size="11.8" text-anchor="end" font-weight="400" fill="#000">0</text>
<line x1="388.70" y1="788.16" x2="392.30" y2="788.16" stroke="#1a1a1a" stroke-width="1.2"/>
<text x="386.00" y="792.41" font-size="11.8" text-anchor="end" font-weight="400" fill="#000">1</text>
<line x1="388.70" y1="763.82" x2="392.30" y2="763.82" stroke="#1a1a1a" stroke-width="1.2"/>
<text x="386.00" y="768.07" font-size="11.8" text-anchor="end" font-weight="400" fill="#000">2</text>
<line x1="388.70" y1="739.48" x2="392.30" y2="739.48" stroke="#1a1a1a" stroke-width="1.2"/>
<text x="386.00" y="743.73" font-size="11.8" text-anchor="end" font-weight="400" fill="#000">3</text>
<line x1="388.70" y1="715.14" x2="392.30" y2="715.14" stroke="#1a1a1a" stroke-width="1.2"/>
<text x="386.00" y="719.39" font-size="11.8" text-anchor="end" font-weight="400" fill="#000">4</text>
<line x1="388.70" y1="690.80" x2="392.30" y2="690.80" stroke="#1a1a1a" stroke-width="1.2"/>
<text x="386.00" y="695.05" font-size="11.8" text-anchor="end" font-weight="400" fill="#000">5</text>
<line x1="415.90" y1="812.50" x2="415.90" y2="816.50" stroke="#1a1a1a" stroke-width="1.2"/>
<text x="415.90" y="831.25" font-size="13.2" text-anchor="middle" font-weight="400" fill="#000">HM</text>
<line x1="450.40" y1="812.50" x2="450.40" y2="816.50" stroke="#1a1a1a" stroke-width="1.2"/>
<text x="450.40" y="831.25" font-size="13.2" text-anchor="middle" font-weight="400" fill="#000">SM</text>
<line x1="415.75" y1="701.75" x2="415.75" y2="776.48" stroke="#333" stroke-width="0.9"/>
<line x1="415.75" y1="806.66" x2="415.75" y2="806.66" stroke="#333" stroke-width="0.9"/>
<line x1="410.12" y1="701.75" x2="421.38" y2="701.75" stroke="#333" stroke-width="0.9"/>
<line x1="410.12" y1="806.66" x2="421.38" y2="806.66" stroke="#333" stroke-width="0.9"/>
<rect x="404.50" y="776.48" width="22.50" height="30.18" fill="#A6A6FA" stroke="#333" stroke-width="0.9"/>
<line x1="404.50" y1="807.15" x2="427.00" y2="807.15" stroke="#333" stroke-width="1.0"/>
<line x1="450.55" y1="808.61" x2="450.55" y2="808.85" stroke="#333" stroke-width="0.9"/>
<line x1="450.55" y1="810.55" x2="450.55" y2="811.04" stroke="#333" stroke-width="0.9"/>
<line x1="445.08" y1="808.61" x2="456.02" y2="808.61" stroke="#333" stroke-width="0.9"/>
<line x1="445.08" y1="811.04" x2="456.02" y2="811.04" stroke="#333" stroke-width="0.9"/>
<rect x="439.60" y="808.85" width="21.90" height="1.70" fill="#E85050" stroke="#333" stroke-width="0.9"/>
<line x1="439.60" y1="809.82" x2="461.50" y2="809.82" stroke="#333" stroke-width="1.0"/>
<line x1="415.30" y1="699.20" x2="449.80" y2="699.20" stroke="#000" stroke-width="1.4"/>
<text x="432.55" y="698.78" font-size="15.5" text-anchor="middle" font-weight="700" fill="#000">**</text>
<text x="367.70" y="754.87" font-size="13.1" text-anchor="middle" font-weight="400" fill="#000" transform="rotate(-90 367.70 750.15)">Relative abundance (fold)</text>
<text x="488.60" y="658.88" font-size="18.0" text-anchor="start" font-weight="700" fill="#000">H</text>
<text x="580.90" y="674.48" font-size="13.0" text-anchor="middle" font-weight="400" fill="#000">Deoxycholic acid</text>
<line x1="553.60" y1="689.60" x2="553.60" y2="811.80" stroke="#1a1a1a" stroke-width="1.4"/>
<line x1="552.90" y1="811.00" x2="635.40" y2="811.00" stroke="#1a1a1a" stroke-width="1.6"/>
<line x1="550.00" y1="811.00" x2="553.60" y2="811.00" stroke="#1a1a1a" stroke-width="1.2"/>
<text x="547.30" y="815.25" font-size="11.8" text-anchor="end" font-weight="400" fill="#000">0</text>
<line x1="550.00" y1="780.65" x2="553.60" y2="780.65" stroke="#1a1a1a" stroke-width="1.2"/>
<text x="547.30" y="784.90" font-size="11.8" text-anchor="end" font-weight="400" fill="#000">1</text>
<line x1="550.00" y1="750.30" x2="553.60" y2="750.30" stroke="#1a1a1a" stroke-width="1.2"/>
<text x="547.30" y="754.55" font-size="11.8" text-anchor="end" font-weight="400" fill="#000">2</text>
<line x1="550.00" y1="719.95" x2="553.60" y2="719.95" stroke="#1a1a1a" stroke-width="1.2"/>
<text x="547.30" y="724.20" font-size="11.8" text-anchor="end" font-weight="400" fill="#000">3</text>
<line x1="550.00" y1="689.60" x2="553.60" y2="689.60" stroke="#1a1a1a" stroke-width="1.2"/>
<text x="547.30" y="693.85" font-size="11.8" text-anchor="end" font-weight="400" fill="#000">4</text>
<line x1="577.30" y1="811.00" x2="577.30" y2="815.00" stroke="#1a1a1a" stroke-width="1.2"/>
<text x="577.30" y="829.75" font-size="13.2" text-anchor="middle" font-weight="400" fill="#000">HM</text>
<line x1="611.40" y1="811.00" x2="611.40" y2="815.00" stroke="#1a1a1a" stroke-width="1.2"/>
<text x="611.40" y="829.75" font-size="13.2" text-anchor="middle" font-weight="400" fill="#000">SM</text>
<line x1="577.20" y1="716.91" x2="577.20" y2="766.08" stroke="#333" stroke-width="0.9"/>
<line x1="577.20" y1="800.68" x2="577.20" y2="801.29" stroke="#333" stroke-width="0.9"/>
<line x1="571.50" y1="716.91" x2="582.90" y2="716.91" stroke="#333" stroke-width="0.9"/>
<line x1="571.50" y1="801.29" x2="582.90" y2="801.29" stroke="#333" stroke-width="0.9"/>
<rect x="565.80" y="766.08" width="22.80" height="34.60" fill="#A6A6FA" stroke="#333" stroke-width="0.9"/>
<line x1="565.80" y1="791.27" x2="588.60" y2="791.27" stroke="#333" stroke-width="1.0"/>
<line x1="612.10" y1="796.13" x2="612.10" y2="798.86" stroke="#333" stroke-width="0.9"/>
<line x1="612.10" y1="806.45" x2="612.10" y2="807.36" stroke="#333" stroke-width="0.9"/>
<line x1="606.35" y1="796.13" x2="617.85" y2="796.13" stroke="#333" stroke-width="0.9"/>
<line x1="606.35" y1="807.36" x2="617.85" y2="807.36" stroke="#333" stroke-width="0.9"/>
<rect x="600.60" y="798.86" width="23.00" height="7.59" fill="#FF4D4D" stroke="#333" stroke-width="0.9"/>
<line x1="600.60" y1="804.63" x2="623.60" y2="804.63" stroke="#333" stroke-width="1.0"/>
<line x1="577.00" y1="698.00" x2="611.40" y2="698.00" stroke="#000" stroke-width="1.4"/>
<text x="594.20" y="697.58" font-size="15.5" text-anchor="middle" font-weight="700" fill="#000">*</text>
<text x="528.80" y="753.52" font-size="13.1" text-anchor="middle" font-weight="400" fill="#000" transform="rotate(-90 528.80 748.80)">Relative abundance (fold)</text>
</svg></body></html>
